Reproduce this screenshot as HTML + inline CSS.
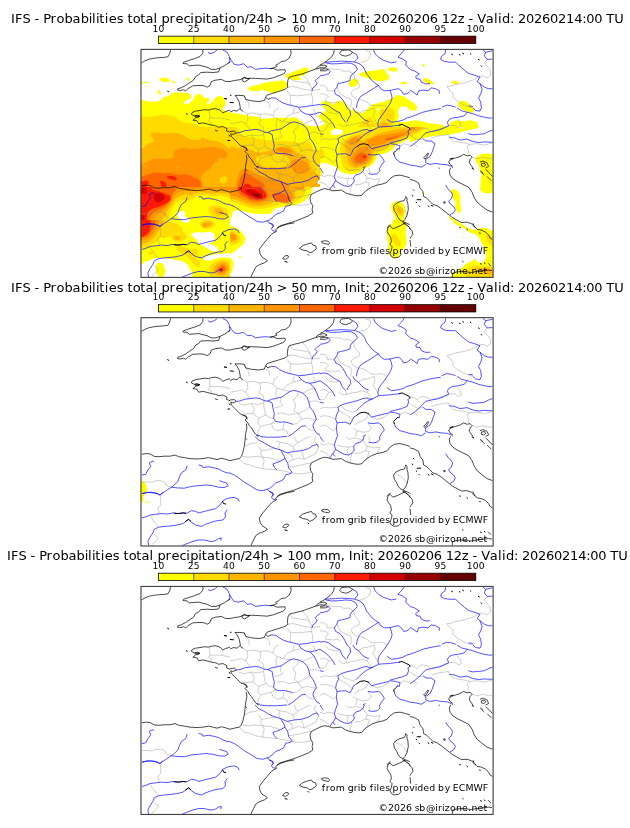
<!DOCTYPE html>
<html lang="en"><head><meta charset="utf-8"><title>IFS - Probabilities total precipitation/24h</title>
<style>
html,body{margin:0;padding:0;background:#fff}
body{width:630px;height:828px;overflow:hidden}
svg{display:block}
text{font-family:"DejaVu Sans","Liberation Sans",sans-serif;fill:#000}
.t{font-size:13.0px;white-space:pre}
.c{font-size:9.15px;white-space:pre}
.n{font-size:9.4px;white-space:pre}
.k{fill:none;stroke:#000;stroke-width:.72;stroke-linejoin:round}
.K{fill:none;stroke:#000;stroke-width:1.0;stroke-linejoin:round;stroke-linecap:round}
.b{fill:none;stroke:#00f;stroke-width:.68;stroke-linejoin:round}
.g{fill:none;stroke:#8a8a8a;stroke-width:.42;stroke-linejoin:round}
.f{fill:none;stroke:#444;stroke-width:1.15}
</style></head>
<body>
<svg width="630" height="828" viewBox="0 0 630 828">
<rect width="630" height="828" fill="#fff"/>
<g id="panel1">
<text class="t" x="11.09 15.10 22.45 30.48 34.49 39.17 43.18 50.54 56.56 64.58 72.61 80.63 88.65 92.00 96.01 99.35 104.70 108.72 116.74 123.43 127.44 132.79 140.14 145.49 153.52 157.53 161.54 169.57 175.59 183.61 190.30 194.31 202.33 205.68 211.03 219.05 224.40 228.41 236.44 244.46 248.47 256.50 264.52 272.55 276.56 287.26 291.27 299.30 307.32 311.33 324.04 336.74 340.75 344.77 348.78 356.80 360.15 365.50 369.51 373.52 381.55 389.57 397.59 405.62 413.64 421.67 429.69 437.72 441.73 449.75 457.78 464.46 468.48 473.16 477.17 485.86 493.89 497.90 501.91 509.94 513.95 517.96 525.98 534.01 542.03 550.06 558.08 566.11 574.13 582.16 586.17 594.19 602.22 606.23 614.25" y="23.25">IFS - Probabilities total precipitation/24h &gt; 10 mm, Init: 20260206 12z - Valid: 20260214:00 TU</text>
<rect x="158.50" y="36.15" width="35.31" height="7.30" fill="#ffff00"/><rect x="193.76" y="36.15" width="35.31" height="7.30" fill="#ffdc00"/><rect x="229.01" y="36.15" width="35.31" height="7.30" fill="#ffb400"/><rect x="264.27" y="36.15" width="35.31" height="7.30" fill="#ff9300"/><rect x="299.52" y="36.15" width="35.31" height="7.30" fill="#ff6600"/><rect x="334.78" y="36.15" width="35.31" height="7.30" fill="#ff1900"/><rect x="370.03" y="36.15" width="35.31" height="7.30" fill="#d40000"/><rect x="405.29" y="36.15" width="35.31" height="7.30" fill="#960000"/><rect x="440.54" y="36.15" width="35.31" height="7.30" fill="#640000"/>
<path d="M193.76 36.15V43.45M229.01 36.15V43.45M264.27 36.15V43.45M299.52 36.15V43.45M334.78 36.15V43.45M370.03 36.15V43.45M405.29 36.15V43.45M440.54 36.15V43.45" stroke="#000" stroke-width=".6" fill="none"/>
<rect x="158.50" y="36.15" width="317.30" height="7.30" fill="none" stroke="#000" stroke-width=".8"/>
<text class="c" x="152.48 158.50" y="31.60">10</text><text class="c" x="187.74 193.76" y="31.60">25</text><text class="c" x="222.99 229.01" y="31.60">40</text><text class="c" x="258.25 264.27" y="31.60">50</text><text class="c" x="293.50 299.52" y="31.60">60</text><text class="c" x="328.76 334.78" y="31.60">70</text><text class="c" x="364.02 370.03" y="31.60">80</text><text class="c" x="399.27 405.29" y="31.60">90</text><text class="c" x="434.53 440.54" y="31.60">95</text><text class="c" x="466.77 472.79 478.81" y="31.60">100</text>
<svg x="140.80" y="49.40" width="352.10" height="228.00" viewBox="0 0 352.10 228.00" overflow="hidden">
<rect width="352.10" height="228.00" fill="#fff"/>
<clipPath id="c0_0"><rect x="-0.80" y="-2.40" width="120.00" height="80.00"/></clipPath>
<g clip-path="url(#c0_0)"><rect x="-0.80" y="-2.40" width="120.00" height="80.00" fill="#fff"/>
<path d="M-4.6 50.6L0.7 50.6L6.8 51.9L14.4 52.5L20.2 50.9L22.1 48.1L27.8 46.7L31.6 43.3L37.3 42.9L44.9 43.3L49.7 45.2L50.6 48.6L46.8 50.6L43.0 52.8L44.0 54.7L48.7 53.8L52.5 50.0L54.4 46.2L58.2 44.3L62.1 46.2L64.0 49.0L67.8 48.1L68.7 51.9L64.9 53.8L69.7 54.4L72.5 50.9L75.4 47.5L79.2 46.2L83.0 48.6L84.9 52.8L84.0 56.6L81.1 59.5L86.8 62.4L94.4 63.9L102.1 65.2L109.7 66.6L123.0 68.5L123.0 81.4L-4.6 81.4Z" fill="#ffff00"/>
<path d="M-4.6 32.5L7.8 32.5L7.8 33.8L-4.6 33.8Z" fill="#ffff00"/>
<path d="M18.2 29.0L22.1 28.1L27.8 29.0L29.7 31.5L25.9 32.8L21.1 32.3Z" fill="#ffff00"/>
<path d="M30.6 30.9L33.5 31.9L34.4 34.2L31.6 33.4Z" fill="#ffff00"/>
<path d="M45.9 28.1L49.1 29.6L47.8 31.9L45.9 30.4Z" fill="#ffff00"/>
<path d="M17.3 40.5L19.2 41.4L20.2 44.8L17.9 45.2L16.7 42.9Z" fill="#ffff00"/>
<path d="M106.8 38.6L111.6 36.6L123.0 34.4L123.0 41.4L113.5 41.8L108.7 41.0Z" fill="#ffff00"/>
<path d="M-4.6 67.1L0.7 67.1L6.8 67.7L14.4 66.6L22.1 65.2L27.8 65.8L33.5 67.1L37.3 70.0L43.0 72.8L50.6 73.8L56.3 75.7L62.1 78.6L62.1 81.4L-4.6 81.4Z" fill="#ffdc00"/>
</g>
<clipPath id="c0_1"><rect x="119.20" y="-2.40" width="120.00" height="80.00"/></clipPath>
<g clip-path="url(#c0_1)"><rect x="119.20" y="-2.40" width="120.00" height="80.00" fill="#fff"/>
<path d="M115.4 34.7L119.2 34.7L126.8 32.8L134.4 31.9L142.1 30.9L145.9 32.8L146.8 36.6L142.1 40.5L136.3 42.9L130.6 43.7L124.9 41.0L119.2 40.5L115.4 41.0Z" fill="#ffff00"/>
<path d="M144.0 26.2L149.7 23.3L157.3 20.5L164.9 17.6L167.8 19.5L166.8 23.3L162.1 26.2L157.3 27.1L161.1 30.0L155.4 30.9L149.7 30.0L145.9 28.5Z" fill="#ffff00"/>
<path d="M171.6 18.2L173.5 18.9L172.5 20.1Z" fill="#ffff00"/>
<path d="M207.8 32.8L210.6 30.0L215.4 29.0L217.9 31.9L216.3 35.7L212.5 37.6L208.3 36.6Z" fill="#ffff00"/>
<path d="M218.2 24.3L224.0 22.4L231.6 21.4L243.0 20.1L243.0 30.9L237.3 31.5L230.6 30.0L224.9 28.1L220.2 27.1Z" fill="#ffff00"/>
<path d="M115.4 69.6L119.2 69.6L126.8 69.0L136.3 68.1L145.9 68.5L155.4 69.6L160.2 72.8L164.9 77.6L164.9 81.4L115.4 81.4Z" fill="#ffff00"/>
</g>
<clipPath id="c0_2"><rect x="149.20" y="37.60" width="90.00" height="60.00"/></clipPath>
<g clip-path="url(#c0_2)"><rect x="149.20" y="37.60" width="90.00" height="60.00" fill="#fff"/>
<path d="M146.3 68.3L149.2 68.3L153.5 67.6L157.8 69.7L162.1 73.3L166.3 76.2L170.6 76.9L176.3 76.5L182.1 76.2L184.2 73.3L181.3 71.2L177.8 67.6L179.2 64.7L182.1 62.6L186.3 61.2L183.5 59.0L179.9 54.0L182.1 51.9L186.3 51.9L190.6 53.3L192.1 55.5L196.3 51.9L200.6 51.2L204.2 53.3L207.8 57.6L209.9 61.2L212.1 60.5L216.3 61.9L220.6 64.0L223.5 62.6L227.1 59.0L230.6 55.5L234.9 54.0L242.1 53.3L242.1 100.5L146.3 100.5Z" fill="#ffff00"/>
<path d="M189.9 81.2L196.3 79.7L202.1 80.5L202.3 83.3L199.2 85.5L192.1 85.5L189.6 83.3Z" fill="#fff"/>
<path d="M236.3 59.0L239.2 59.0L239.2 61.2L236.6 61.2Z" fill="#fff"/>
<path d="M217.8 76.2L222.1 71.9L226.3 68.3L230.6 67.6L232.1 71.2L234.9 73.3L242.1 74.7L242.1 100.5L196.3 100.5L199.2 94.7L206.3 90.5L212.1 86.2L216.3 81.9Z" fill="#ffdc00"/>
<path d="M181.3 86.2L183.5 85.5L184.9 87.6L182.8 89.0Z" fill="#ffdc00"/>
<path d="M197.8 100.5L200.6 94.7L206.3 91.2L212.1 88.3L216.3 85.5L220.6 82.2L224.9 80.5L229.2 79.7L234.9 80.5L242.1 81.9L242.1 100.5Z" fill="#ffb400"/>
<path d="M206.3 100.5L209.2 94.7L213.5 91.2L217.8 89.0L223.5 86.9L229.2 85.5L234.9 86.2L242.1 87.6L242.1 100.5Z" fill="#ff9300"/>
<path d="M210.6 100.5L212.1 94.7L216.3 92.6L220.6 93.3L217.8 97.6L216.3 100.5Z" fill="#ff6600"/>
</g>
<clipPath id="c0_3"><rect x="239.20" y="-2.40" width="120.00" height="80.00"/></clipPath>
<g clip-path="url(#c0_3)"><rect x="239.20" y="-2.40" width="120.00" height="80.00" fill="#fff"/>
<path d="M235.4 20.1L239.2 20.1L244.0 19.5L244.9 23.3L248.7 26.2L247.8 30.0L243.0 31.5L235.4 30.9Z" fill="#ffff00"/>
<path d="M246.8 18.9L251.6 17.6L256.3 18.9L257.3 21.4L252.5 22.4L247.8 21.4Z" fill="#ffff00"/>
<path d="M259.2 32.8L263.0 32.3L266.8 33.0L265.9 34.7L261.1 34.9Z" fill="#ffff00"/>
<path d="M281.1 15.1L283.4 14.7L284.0 17.0L281.5 17.4Z" fill="#ffff00"/>
<path d="M282.1 29.0L285.9 28.5L290.6 31.5L293.5 33.8L290.6 35.3L285.9 33.8L282.6 31.5Z" fill="#ffff00"/>
<path d="M310.6 32.3L314.4 31.1L317.7 32.3L317.3 34.7L312.5 34.9Z" fill="#ffff00"/>
<path d="M317.3 53.8L320.2 51.3L324.9 51.9L329.7 55.7L333.5 59.5L332.5 63.3L327.8 62.7L322.1 60.5L318.2 57.6Z" fill="#ffff00"/>
<path d="M235.4 52.8L239.2 52.8L244.9 51.9L252.5 48.1L256.3 45.6L262.1 46.7L267.8 50.0L273.5 53.8L276.3 57.6L275.4 61.4L269.7 60.5L264.0 56.6L259.2 57.6L257.3 62.4L258.2 67.1L256.3 71.9L264.0 72.8L273.5 70.9L281.1 71.9L288.7 73.8L296.3 74.7L302.1 75.7L307.8 81.4L235.4 81.4Z" fill="#ffff00"/>
<path d="M306.8 81.4L309.7 72.8L315.4 70.9L323.0 71.9L330.6 70.9L336.3 72.8L339.2 81.4Z" fill="#ffff00"/>
<path d="M235.4 60.5L243.0 59.5L248.7 58.6L252.5 60.5L254.4 65.2L252.5 70.9L250.6 81.4L235.4 81.4Z" fill="#ffdc00"/>
<path d="M235.4 73.8L243.0 72.8L247.8 73.8L248.7 81.4L235.4 81.4Z" fill="#ffb400"/>
</g>
<clipPath id="c0_4"><rect x="-0.80" y="77.60" width="90.00" height="60.00"/></clipPath>
<g clip-path="url(#c0_4)"><rect x="-0.80" y="77.60" width="90.00" height="60.00" fill="#fff"/>
<path d="M-3.7 74.7L92.1 74.7L92.1 140.5L-3.7 140.5Z" fill="#ffdc00"/>
<path d="M-3.7 99.0L1.2 99.0L4.9 96.2L7.8 94.0L13.5 91.9L10.6 87.6L9.9 83.3L14.9 83.0L22.1 84.0L29.2 83.3L36.3 83.6L42.1 85.5L46.3 88.3L52.1 90.5L57.8 90.5L62.1 87.6L64.9 89.7L70.6 91.2L76.3 91.9L82.1 94.0L86.3 97.6L92.1 101.2L92.1 140.5L-3.7 140.5Z" fill="#ffb400"/>
<path d="M-3.7 114.7L1.2 114.7L4.9 113.3L9.2 111.2L13.5 109.0L20.6 109.7L27.8 109.7L33.5 107.6L32.8 104.7L33.5 101.2L37.8 99.0L43.5 98.7L49.2 99.7L56.3 99.0L63.5 98.3L70.6 97.6L77.8 98.3L83.5 100.5L86.6 104.0L86.3 108.3L82.1 109.3L77.8 108.3L77.1 111.9L73.5 113.3L70.6 117.6L67.8 120.5L64.9 121.9L62.1 124.7L59.9 129.0L61.3 133.3L62.8 140.5L-3.7 140.5Z" fill="#ff9300"/>
<path d="M34.2 116.9L37.8 116.5L38.1 118.3L34.9 118.7Z" fill="#ffb400"/>
<path d="M1.8 116.2L4.9 115.9L4.9 117.6L2.1 117.9Z" fill="#ffb400"/>
<path d="M-3.7 126.9L1.2 126.9L6.3 125.5L12.1 123.3L17.8 123.0L23.5 124.0L27.8 123.3L33.5 124.7L39.2 125.5L44.9 124.7L50.6 126.9L56.3 129.0L59.2 131.9L60.6 134.7L59.2 140.5L-3.7 140.5Z" fill="#ff6600"/>
<path d="M26.3 126.9L32.1 126.5L36.3 129.0L34.9 131.2L29.2 129.7L26.3 128.3Z" fill="#ff1900"/>
<path d="M19.2 131.9L22.8 131.6L25.6 134.7L24.2 140.5L20.6 136.2Z" fill="#ff1900"/>
<path d="M-3.7 131.9L1.2 131.9L6.3 131.2L8.5 132.6L6.3 135.5L3.5 140.5L-3.7 140.5Z" fill="#ff1900"/>
<path d="M79.2 129.0L83.5 126.5L86.3 128.3L85.6 132.6L82.1 134.7L79.2 132.6Z" fill="#ffdc00"/>
</g>
<clipPath id="c0_5"><rect x="89.20" y="77.60" width="90.00" height="60.00"/></clipPath>
<g clip-path="url(#c0_5)"><rect x="89.20" y="77.60" width="90.00" height="60.00" fill="#fff"/>
<path d="M86.3 74.7L182.1 74.7L182.1 140.5L86.3 140.5Z" fill="#ffff00"/>
<path d="M86.3 74.7L95.6 74.7L95.6 77.6L97.8 81.9L102.1 86.2L107.8 87.6L113.5 88.3L119.2 89.7L124.9 91.2L130.6 90.5L136.3 91.9L142.1 91.2L147.8 91.9L153.5 92.6L159.2 93.3L164.9 91.9L169.2 93.3L172.1 97.6L173.5 101.9L177.8 100.5L182.1 101.2L182.1 140.5L86.3 140.5Z" fill="#ffdc00"/>
<path d="M86.3 96.9L89.2 96.9L93.5 97.6L97.8 99.0L100.6 97.6L106.3 99.0L110.6 100.5L114.9 102.6L120.6 103.3L126.3 101.9L132.1 101.2L136.3 98.3L142.1 96.9L149.2 97.6L153.5 101.2L157.8 104.7L163.5 106.2L167.8 110.5L169.2 114.7L172.1 120.5L174.9 124.7L182.1 126.9L182.1 140.5L86.3 140.5Z" fill="#ffb400"/>
<path d="M116.3 106.9L122.1 105.5L129.2 106.2L134.9 104.7L140.6 105.5L146.3 106.9L149.2 110.5L147.8 114.7L143.5 117.6L137.8 118.3L132.1 117.6L126.3 118.3L120.6 116.2L116.3 113.3L114.9 109.7Z" fill="#ffdc00"/>
<path d="M94.2 140.5L95.6 131.9L97.8 124.7L100.6 120.5L104.9 119.0L109.2 120.5L113.5 123.3L117.8 125.5L123.5 127.6L129.2 129.0L134.9 130.5L140.6 131.9L146.3 133.3L149.2 137.6L149.2 140.5Z" fill="#ff9300"/>
<path d="M134.9 99.0L140.6 97.9L147.8 99.0L152.1 101.9L150.6 104.0L144.9 103.3L139.2 102.6L135.6 101.2Z" fill="#ff9300"/>
<path d="M150.6 111.9L154.9 109.7L160.6 110.5L166.3 113.3L168.5 119.0L166.3 123.3L160.6 124.7L154.9 123.3L152.1 120.5L149.9 116.2Z" fill="#ff9300"/>
<path d="M96.3 140.5L97.8 134.7L99.9 127.6L102.8 124.0L105.6 123.3L109.2 125.5L113.5 128.3L117.8 131.2L122.1 134.0L126.3 138.3L126.3 140.5Z" fill="#ff6600"/>
<path d="M101.3 140.5L102.8 136.2L104.9 134.0L107.8 134.7L110.6 136.9L112.8 140.5Z" fill="#ff1900"/>
<path d="M176.3 131.2L182.1 130.5L182.1 134.7L177.1 134.7Z" fill="#fff"/>
</g>
<clipPath id="c0_6"><rect x="179.20" y="77.60" width="90.00" height="60.00"/></clipPath>
<g clip-path="url(#c0_6)"><rect x="179.20" y="77.60" width="90.00" height="60.00" fill="#fff"/>
<path d="M176.3 74.7L272.1 74.7L272.1 88.3L266.3 90.5L260.6 93.3L254.9 96.2L250.6 100.5L246.3 103.3L240.6 104.7L236.3 106.2L234.9 110.5L232.1 114.7L227.8 117.6L223.5 119.0L220.6 121.9L214.9 124.7L207.8 124.7L202.1 123.3L197.8 120.5L194.9 117.6L190.6 115.5L184.9 113.3L179.2 114.0L176.3 114.0Z" fill="#ffff00"/>
<path d="M176.3 120.5L180.6 120.5L181.3 123.3L180.6 126.2L176.3 126.2Z" fill="#ffff00"/>
<path d="M189.9 81.9L193.5 79.7L200.6 80.2L202.3 82.6L200.6 85.0L193.5 85.9L190.3 84.5Z" fill="#fff"/>
<path d="M176.3 99.0L179.2 99.0L182.8 100.5L184.2 104.7L182.1 108.3L179.2 109.0L176.3 109.0Z" fill="#ffdc00"/>
<path d="M176.3 84.0L179.2 84.0L181.3 85.5L182.1 88.3L179.2 89.0L176.3 89.0Z" fill="#ffdc00"/>
<path d="M200.6 93.3L204.9 89.0L210.6 86.2L216.3 84.0L222.1 81.9L227.8 80.5L233.5 79.0L239.2 78.3L246.3 74.7L272.1 74.7L272.1 85.5L264.9 89.0L259.2 91.9L253.5 94.7L249.2 97.6L244.9 100.5L240.6 101.9L236.3 103.3L233.5 107.6L232.1 111.9L229.2 115.5L224.9 117.6L220.6 119.7L214.9 121.9L209.2 121.9L204.9 120.5L202.1 117.6L200.6 113.3L199.9 107.6L199.2 101.9L199.9 96.2Z" fill="#ffdc00"/>
<path d="M203.5 94.7L207.8 89.7L213.5 86.9L219.2 85.5L222.1 87.6L219.2 91.2L222.1 91.9L227.8 89.0L233.5 86.2L239.2 84.0L244.9 82.6L250.6 81.2L257.8 79.7L264.9 79.0L272.1 79.7L272.1 84.0L264.9 86.9L259.2 89.7L253.5 91.9L247.8 94.7L243.5 97.6L239.2 99.0L234.9 100.5L232.1 103.3L231.3 107.6L229.2 111.9L224.9 115.5L219.2 117.6L213.5 118.3L209.2 116.2L207.1 111.9L206.3 106.2L204.9 100.5Z" fill="#ffb400"/>
<path d="M207.8 93.3L210.6 89.7L214.9 87.6L217.8 89.0L216.3 91.9L213.5 95.5L209.9 96.2Z" fill="#ff9300"/>
<path d="M226.3 91.2L232.1 88.3L237.8 86.2L243.5 85.5L250.6 84.7L257.8 83.3L264.9 81.9L267.8 83.3L264.9 85.5L259.2 87.6L253.5 89.7L247.8 91.9L242.1 94.7L236.3 96.2L230.6 96.9L227.1 94.7Z" fill="#ff9300"/>
<path d="M209.9 110.5L212.1 104.7L216.3 100.5L220.6 97.6L224.9 96.9L228.5 99.0L229.9 103.3L229.2 108.3L227.1 111.9L222.1 114.7L216.3 115.9L212.1 114.5Z" fill="#ff9300"/>
<path d="M213.5 109.7L216.3 105.5L220.6 103.3L224.9 104.7L227.1 107.6L224.9 111.2L220.6 113.3L215.6 113.0Z" fill="#ff6600"/>
<path d="M243.5 89.0L250.6 87.6L257.8 86.2L263.5 84.7L259.2 86.9L252.1 89.7L246.3 91.2Z" fill="#ff6600"/>
<path d="M221.3 106.9L224.2 105.5L225.6 107.6L223.5 109.0Z" fill="#ff1900"/>
</g>
<clipPath id="c0_7"><rect x="269.20" y="77.60" width="90.00" height="60.00"/></clipPath>
<g clip-path="url(#c0_7)"><rect x="269.20" y="77.60" width="90.00" height="60.00" fill="#fff"/>
<path d="M266.3 74.7L339.2 74.7L339.2 77.6L333.5 79.7L326.3 81.2L319.2 83.0L312.1 84.7L304.9 85.5L297.8 86.2L290.6 86.9L284.9 88.3L279.2 89.7L274.9 91.2L269.2 92.6L266.3 93.3Z" fill="#ffff00"/>
<path d="M318.2 77.6L320.2 77.6L320.2 79.3L318.5 79.3Z" fill="#fff"/>
<path d="M334.2 109.7L336.3 106.9L340.6 104.7L346.3 104.0L351.8 104.7L362.1 104.7L362.1 140.5L339.2 140.5L339.9 131.9L340.6 126.2L339.2 120.5L337.8 116.2L335.6 112.6Z" fill="#ffff00"/>
<path d="M266.3 87.6L269.2 87.6L273.5 85.5L277.8 83.3L282.1 80.5L284.9 77.6L284.9 74.7L266.3 74.7Z" fill="#ffdc00"/>
<path d="M266.3 84.7L269.2 84.7L273.5 82.6L277.8 80.5L280.6 77.6L280.6 74.7L266.3 74.7Z" fill="#ffb400"/>
<path d="M266.3 81.9L269.2 81.9L273.5 79.7L276.3 77.6L276.3 74.7L266.3 74.7Z" fill="#ff9300"/>
</g>
<clipPath id="c0_8"><rect x="-0.80" y="137.60" width="90.00" height="60.00"/></clipPath>
<g clip-path="url(#c0_8)"><rect x="-0.80" y="137.60" width="90.00" height="60.00" fill="#fff"/>
<path d="M-3.7 134.7L92.1 134.7L92.1 200.5L-3.7 200.5Z" fill="#ffff00"/>
<path d="M37.1 162.6L42.1 161.2L44.9 164.0L43.5 166.2L47.8 169.0L49.2 171.9L44.9 173.3L40.6 171.9L37.8 168.3L35.6 165.5Z" fill="#fff"/>
<path d="M49.2 184.7L53.5 182.6L59.2 183.3L64.9 182.6L70.6 181.9L73.5 184.7L74.2 189.0L72.1 192.6L66.3 194.0L60.6 193.3L56.3 190.5L52.1 187.6Z" fill="#fff"/>
<path d="M80.6 174.0L84.9 171.9L92.1 171.2L92.1 174.7L83.5 175.5Z" fill="#fff"/>
<path d="M92.1 149.0L84.9 147.6L79.2 146.2L73.5 146.9L67.8 146.2L62.1 145.5L56.3 146.2L53.5 149.0L49.2 150.5L44.9 151.9L40.6 150.5L36.3 151.9L33.5 156.2L30.6 160.5L29.2 164.7L27.8 169.0L30.6 173.3L33.5 177.6L30.6 180.5L26.3 181.9L23.5 184.7L22.1 189.0L20.6 193.3L19.2 200.5L-3.7 200.5L-3.7 134.7L92.1 134.7Z" fill="#ffdc00"/>
<path d="M67.8 157.6L73.5 156.2L79.2 156.9L84.9 159.0L87.8 163.3L86.3 167.6L82.1 169.0L76.3 168.3L70.6 166.2L67.8 162.6Z" fill="#ffdc00"/>
<path d="M59.2 171.9L64.9 169.7L70.6 170.5L73.5 173.3L72.1 177.6L66.3 179.7L62.1 179.0L59.9 176.2Z" fill="#ffdc00"/>
<path d="M30.6 186.2L34.9 184.7L40.6 185.5L43.5 183.3L46.3 184.7L44.9 189.0L40.6 191.9L34.9 192.6L31.3 190.5Z" fill="#ffdc00"/>
<path d="M92.1 144.7L83.5 144.0L77.8 143.3L70.6 144.0L64.9 143.3L59.2 142.6L53.5 144.7L49.2 146.2L44.9 144.7L40.6 146.2L34.9 149.0L32.1 153.3L29.2 157.6L26.3 161.9L24.9 166.2L22.1 169.0L17.8 173.3L14.9 177.6L13.5 181.9L12.1 186.2L10.6 190.5L9.2 200.5L-3.7 200.5L-3.7 134.7L92.1 134.7Z" fill="#ffb400"/>
<path d="M73.5 159.0L77.8 158.3L82.1 160.5L83.5 164.0L79.2 165.5L74.9 164.0Z" fill="#ffb400"/>
<path d="M61.3 174.7L64.9 172.6L69.2 173.3L67.8 176.9L63.5 178.3Z" fill="#ffb400"/>
<path d="M33.5 187.6L37.1 186.9L39.2 189.0L36.3 190.7Z" fill="#ffb400"/>
<path d="M92.1 141.2L82.1 140.5L73.5 139.7L64.9 139.0L56.3 139.7L49.2 141.9L42.1 141.2L36.3 143.3L32.1 147.6L30.6 151.9L27.8 156.2L23.5 160.5L19.2 163.3L14.9 166.2L12.1 170.5L10.6 174.7L11.3 180.5L10.6 186.2L7.8 190.5L6.3 200.5L-3.7 200.5L-3.7 134.7L92.1 134.7Z" fill="#ff9300"/>
<path d="M39.2 134.7L34.9 140.5L31.3 144.7L30.6 149.0L27.8 153.3L23.5 157.6L17.8 160.5L12.1 163.3L9.2 167.6L7.8 173.3L9.2 179.0L8.5 184.7L6.3 189.0L4.9 200.5L-3.7 200.5L-3.7 134.7Z" fill="#ff6600"/>
<path d="M9.2 134.7L12.1 140.5L17.8 141.9L23.5 144.0L29.2 146.2L29.9 150.5L26.3 153.3L22.1 155.5L17.8 157.6L12.1 159.0L7.8 161.9L6.3 166.2L5.6 171.9L7.8 177.6L7.1 183.3L4.9 187.6L3.5 191.9L1.2 194.7L-3.7 194.7L-3.7 134.7Z" fill="#ff1900"/>
<path d="M12.8 144.7L17.8 143.3L22.8 145.5L24.2 149.0L20.6 151.9L16.3 153.3L13.5 150.5Z" fill="#d40000"/>
<path d="M-3.7 137.6L5.6 138.3L6.3 143.3L3.5 144.7L-3.7 143.3Z" fill="#d40000"/>
<path d="M-3.7 164.7L3.5 166.2L3.5 174.7L-3.7 176.2Z" fill="#d40000"/>
</g>
<clipPath id="c0_9"><rect x="89.20" y="137.60" width="90.00" height="60.00"/></clipPath>
<g clip-path="url(#c0_9)"><rect x="89.20" y="137.60" width="90.00" height="60.00" fill="#fff"/>
<path d="M86.3 134.7L172.1 134.7L172.1 137.6L170.6 143.3L167.8 147.6L163.5 151.9L157.8 154.7L152.1 156.2L146.3 156.9L142.1 157.6L136.3 158.3L132.1 160.5L131.3 163.3L127.8 164.7L120.6 164.7L113.5 164.0L107.8 163.3L102.1 161.9L96.3 160.5L92.1 161.9L90.6 167.6L89.2 171.9L86.3 171.9Z" fill="#ffff00"/>
<path d="M86.3 176.2L89.2 176.2L93.5 177.6L97.8 180.5L102.1 184.7L104.2 189.0L103.5 193.3L100.6 196.2L96.3 200.5L86.3 200.5Z" fill="#ffff00"/>
<path d="M86.3 151.9L89.2 151.9L94.9 153.3L100.6 155.5L106.3 157.6L112.1 159.0L117.8 159.7L124.9 159.0L130.6 157.6L136.3 155.5L142.1 154.7L147.8 155.5L152.1 154.0L156.3 151.9L160.6 149.0L163.5 144.7L164.9 140.5L166.3 134.7L86.3 134.7Z" fill="#ffdc00"/>
<path d="M86.3 179.0L92.1 179.7L96.3 181.9L99.9 186.2L100.6 190.5L97.8 194.0L93.5 196.2L86.3 196.2Z" fill="#ffdc00"/>
<path d="M86.3 149.0L93.5 149.7L99.2 151.9L104.9 154.0L110.6 156.2L117.8 156.9L124.9 155.5L130.6 153.3L136.3 151.9L142.1 151.9L147.8 152.6L152.1 151.2L154.9 147.6L153.5 143.3L156.3 139.0L160.6 134.7L86.3 134.7Z" fill="#ffb400"/>
<path d="M86.3 181.2L92.1 181.9L95.6 184.7L97.1 189.0L94.9 192.6L86.3 194.0Z" fill="#ffb400"/>
<path d="M86.3 146.2L93.5 146.9L99.2 149.0L104.9 151.2L110.6 153.3L117.8 154.0L123.5 152.6L127.8 150.5L132.1 147.6L136.3 146.2L142.1 146.2L147.8 149.0L152.1 149.0L152.8 144.7L149.2 140.5L146.3 134.7L86.3 134.7Z" fill="#ff9300"/>
<path d="M150.6 134.7L153.5 139.0L157.8 140.5L163.5 139.0L164.9 134.7Z" fill="#ff9300"/>
<path d="M94.9 134.7L96.3 140.5L99.2 145.5L104.9 148.3L110.6 151.2L117.8 151.9L123.5 150.5L127.1 147.6L126.3 143.3L123.5 139.0L120.6 134.7Z" fill="#ff6600"/>
<path d="M99.2 134.7L97.8 139.0L100.6 142.6L104.9 145.5L110.6 149.0L116.3 150.5L122.1 149.7L125.6 147.6L124.9 143.3L121.3 139.7L117.8 134.7Z" fill="#ff1900"/>
<path d="M104.9 140.5L109.2 139.7L114.9 141.2L119.9 144.0L122.8 146.9L120.6 149.0L115.6 148.3L110.6 146.2L106.3 143.3Z" fill="#d40000"/>
<path d="M112.1 144.0L116.3 144.0L119.9 146.2L117.8 147.9L113.5 146.9Z" fill="#960000"/>
<path d="M130.6 144.7L136.3 143.3L143.5 144.0L149.2 147.6L150.6 151.9L146.3 153.3L139.2 152.6L133.5 150.5Z" fill="#ff6600"/>
</g>
<clipPath id="c0_10"><rect x="179.20" y="137.60" width="90.00" height="60.00"/></clipPath>
<g clip-path="url(#c0_10)"><rect x="179.20" y="137.60" width="90.00" height="60.00" fill="#fff"/>
<path d="M250.6 154.7L253.5 152.6L257.8 151.9L262.1 154.0L264.2 157.6L264.9 161.9L263.5 166.2L262.8 170.5L264.9 174.7L265.6 179.0L264.9 183.3L266.3 187.6L265.6 193.3L263.5 200.5L247.8 200.5L246.3 193.3L247.1 187.6L246.3 183.3L247.8 179.0L250.6 174.7L253.5 171.2L254.2 167.6L252.1 163.3L250.3 159.0Z" fill="#ffff00"/>
<path d="M254.2 156.9L257.1 155.5L260.6 157.6L262.8 161.2L262.8 165.5L260.6 167.6L257.8 166.2L255.6 162.6L254.2 159.7Z" fill="#ffdc00"/>
<path d="M250.6 184.7L253.5 184.0L256.3 186.9L258.5 190.5L259.2 194.0L256.3 194.7L253.5 191.9L251.3 188.3Z" fill="#ffdc00"/>
<path d="M255.6 158.3L258.5 158.3L261.3 161.9L260.6 164.7L257.8 163.3Z" fill="#ffb400"/>
</g>
<clipPath id="c0_11"><rect x="269.20" y="137.60" width="90.00" height="60.00"/></clipPath>
<g clip-path="url(#c0_11)"><rect x="269.20" y="137.60" width="90.00" height="60.00" fill="#fff"/>
<path d="M309.2 140.5L313.5 139.7L317.8 142.6L319.9 147.6L319.2 153.3L320.6 159.0L319.2 164.0L316.3 162.6L314.2 157.6L314.9 151.9L312.1 149.0L311.3 144.7Z" fill="#ffff00"/>
<path d="M339.2 134.7L339.2 140.5L342.1 143.3L346.3 144.0L351.8 143.3L362.1 143.3L362.1 134.7Z" fill="#ffff00"/>
<path d="M307.1 166.2L310.6 168.3L314.9 171.2L319.2 173.3L323.5 176.2L327.8 179.0L332.1 180.5L336.3 179.7L340.6 178.3L346.3 179.0L351.8 181.9L362.1 181.9L362.1 200.5L342.1 200.5L342.8 194.7L340.6 190.5L337.8 186.9L333.5 184.0L329.2 183.3L324.9 179.7L319.2 176.9L313.5 173.3L309.2 169.7Z" fill="#ffff00"/>
<path d="M321.5 187.0L322.6 187.0L322.6 188.2L321.5 188.2Z" fill="#ffff00"/>
<path d="M281.5 142.7L282.9 142.7L282.9 144.2L281.5 144.2Z" fill="#ffff00"/>
<path d="M344.9 184.7L348.5 185.5L351.8 189.0L362.1 189.0L362.1 197.6L349.2 196.2L346.3 192.6L345.6 187.6Z" fill="#ffdc00"/>
</g>
<clipPath id="c0_12"><rect x="-0.80" y="170.60" width="90.00" height="60.00"/></clipPath>
<g clip-path="url(#c0_12)"><rect x="-0.80" y="170.60" width="90.00" height="60.00" fill="#fff"/>
<path d="M-3.7 167.7L92.1 167.7L92.1 233.5L-3.7 233.5Z" fill="#ffff00"/>
<path d="M49.9 184.9L54.9 182.7L60.6 183.2L66.3 182.7L70.6 182.0L73.5 184.9L74.2 189.2L72.1 192.7L67.8 194.2L72.1 195.6L76.3 197.7L77.8 201.3L74.9 202.7L70.6 201.3L66.3 199.2L62.1 196.3L57.8 194.2L56.3 190.6L52.1 187.7Z" fill="#fff"/>
<path d="M-3.7 214.9L1.2 214.9L3.5 212.7L7.8 211.3L13.5 208.5L19.2 208.5L24.9 209.2L30.6 209.9L36.3 210.6L42.1 212.0L46.3 214.9L49.2 219.2L51.3 223.5L52.8 233.5L-3.7 233.5Z" fill="#fff"/>
<path d="M14.9 216.3L17.1 213.5L20.6 213.5L23.5 216.3L24.6 222.0L22.8 227.0L17.8 227.7L15.2 222.7Z" fill="#ffff00"/>
<path d="M37.8 167.7L42.1 172.7L46.3 173.5L49.2 171.3L49.9 167.7Z" fill="#fff"/>
<path d="M62.1 208.5L66.3 206.3L72.1 205.6L76.3 204.2L80.6 204.9L84.9 203.7L92.1 204.2L92.1 208.0L84.9 208.0L79.2 208.0L73.5 209.9L67.8 211.3L63.5 210.6Z" fill="#fff"/>
<path d="M88.5 167.7L90.6 173.5L92.1 173.5L92.1 167.7Z" fill="#fff"/>
<path d="M-3.7 167.7L27.8 167.7L26.3 174.9L23.5 179.2L20.6 183.5L19.2 187.7L16.3 192.0L12.1 194.9L7.8 197.0L3.5 198.5L-3.7 199.2Z" fill="#ffdc00"/>
<path d="M29.9 186.3L33.5 184.2L37.8 184.9L42.1 182.7L44.9 184.2L46.3 187.7L43.5 190.6L39.2 192.0L34.9 192.0L31.3 189.9Z" fill="#ffdc00"/>
<path d="M17.3 176.3L22.1 173.5L29.9 172.0L37.1 174.9L42.1 179.2L42.1 183.5L33.5 184.2L29.9 186.3L23.5 189.2L18.5 187.0L17.1 180.6Z" fill="#ffdc00"/>
<path d="M35.6 197.7L40.6 197.0L44.9 198.5L49.2 199.9L54.9 199.2L57.8 202.0L56.3 205.6L53.5 207.0L56.3 210.6L59.2 214.2L58.5 217.0L54.9 217.0L52.1 213.5L49.2 209.9L44.9 206.3L40.6 204.2L37.1 201.3Z" fill="#ffdc00"/>
<path d="M58.5 173.5L62.1 171.3L67.8 170.6L73.5 172.0L74.9 175.6L70.6 178.5L64.9 179.9L60.6 177.7Z" fill="#ffdc00"/>
<path d="M67.8 217.7L72.1 213.5L77.8 210.6L83.5 209.9L89.2 212.0L92.1 216.3L92.1 233.5L70.6 233.5L68.5 223.5Z" fill="#ffdc00"/>
<path d="M6.3 202.7L10.6 202.3L12.8 204.2L9.2 205.6Z" fill="#ffdc00"/>
<path d="M-3.7 167.7L23.5 167.7L22.1 174.9L19.2 179.2L16.3 183.5L13.5 187.7L9.2 191.3L4.9 193.5L-3.7 194.9Z" fill="#ffb400"/>
<path d="M32.8 187.7L36.3 186.3L39.9 187.7L39.2 190.3L34.9 190.6Z" fill="#ffb400"/>
<path d="M60.6 174.9L63.5 172.7L69.2 172.0L72.1 174.2L69.2 177.0L63.5 178.5Z" fill="#ffb400"/>
<path d="M72.1 219.2L74.9 215.6L79.2 212.7L84.2 212.0L87.8 214.9L88.5 219.9L86.3 224.2L82.1 226.3L76.3 225.6L72.8 222.7Z" fill="#ffb400"/>
<path d="M-3.7 167.7L19.2 167.7L17.8 174.9L14.9 180.6L12.1 184.9L7.8 189.2L-3.7 192.0Z" fill="#ff9300"/>
<path d="M74.9 219.9L77.8 216.3L82.1 214.2L85.6 216.3L86.3 220.6L83.5 224.2L79.2 224.6L76.3 222.7Z" fill="#ff9300"/>
<path d="M-3.7 167.7L14.9 167.7L14.2 174.9L12.1 179.9L9.2 184.2L4.9 187.7L-3.7 189.9Z" fill="#ff6600"/>
<path d="M77.1 219.9L79.9 217.0L83.5 216.3L84.9 219.9L82.1 222.7L78.5 222.7Z" fill="#ff6600"/>
<path d="M-3.7 167.7L9.2 167.7L9.9 174.9L9.2 180.6L6.3 184.9L1.2 187.7L-3.7 187.7Z" fill="#ff1900"/>
<path d="M78.5 219.9L80.9 218.5L82.8 219.9L80.9 221.7Z" fill="#ff1900"/>
<path d="M61.3 175.6L64.2 174.2L65.6 176.3L62.8 177.7Z" fill="#ff9300"/>
</g>
<clipPath id="c0_13"><rect x="89.20" y="170.60" width="90.00" height="60.00"/></clipPath>
<g clip-path="url(#c0_13)"><rect x="89.20" y="170.60" width="90.00" height="60.00" fill="#fff"/>
<path d="M86.3 176.3L89.2 176.3L93.5 177.7L97.8 179.9L102.1 184.2L104.6 189.2L103.5 194.2L99.2 197.7L94.9 201.3L90.6 204.2L86.3 204.9Z" fill="#ffff00"/>
<path d="M98.1 207.0L100.1 207.0L100.1 208.9L98.1 208.9Z" fill="#ffff00"/>
<path d="M86.3 208.5L90.6 209.2L92.8 213.5L92.1 219.2L90.6 223.5L86.3 224.9Z" fill="#ffff00"/>
<path d="M86.3 180.6L92.1 181.3L96.3 183.5L99.2 187.0L99.9 191.3L97.1 194.2L92.8 195.6L86.3 196.3Z" fill="#ffdc00"/>
<path d="M86.3 182.7L92.1 183.2L95.6 185.6L97.1 189.2L94.9 192.0L90.6 192.7L86.3 192.0Z" fill="#ffb400"/>
<path d="M89.2 184.9L93.5 184.9L95.6 187.7L93.5 190.6L89.9 189.9Z" fill="#ff9300"/>
</g>
<clipPath id="c0_14"><rect x="179.20" y="170.60" width="90.00" height="60.00"/></clipPath>
<g clip-path="url(#c0_14)"><rect x="179.20" y="170.60" width="90.00" height="60.00" fill="#fff"/>
<path d="M253.5 167.7L250.6 174.9L247.8 179.2L246.3 183.5L246.3 189.2L247.8 194.9L247.1 199.2L248.5 203.5L250.6 207.0L254.9 209.2L257.8 208.5L258.5 204.2L260.6 201.3L263.5 198.5L265.6 194.9L265.6 189.2L264.9 183.5L265.6 177.7L264.9 173.5L263.5 167.7Z" fill="#ffff00"/>
<path d="M250.6 184.9L253.5 184.2L256.3 187.0L258.5 190.6L260.6 193.5L259.2 196.3L256.3 197.0L253.5 194.2L251.3 189.9Z" fill="#ffdc00"/>
</g>
<clipPath id="c0_15"><rect x="269.20" y="170.60" width="90.00" height="60.00"/></clipPath>
<g clip-path="url(#c0_15)"><rect x="269.20" y="170.60" width="90.00" height="60.00" fill="#fff"/>
<path d="M310.6 167.7L314.9 171.3L319.2 173.5L323.5 176.3L327.8 179.2L332.1 180.6L336.3 179.5L340.6 178.5L346.3 178.9L351.8 181.3L362.1 181.3L362.1 233.5L309.2 233.5L310.6 227.7L313.5 223.5L317.8 220.6L322.1 217.7L326.3 213.5L330.6 212.0L333.5 209.2L336.3 212.0L340.6 213.5L343.5 212.0L345.6 207.7L344.9 202.0L342.8 196.3L339.9 192.0L337.8 187.7L333.5 184.2L329.2 183.5L324.9 179.9L319.2 177.0L313.5 173.5L309.2 169.2Z" fill="#ffff00"/>
<path d="M322.1 187.5L323.5 187.5L323.5 188.6L322.1 188.6Z" fill="#ffff00"/>
<path d="M344.9 184.9L349.2 185.6L351.8 189.2L362.1 189.2L362.1 197.7L350.6 196.3L347.1 192.7L345.6 188.5Z" fill="#ffdc00"/>
<path d="M326.3 219.2L330.6 217.0L336.3 216.3L342.1 217.0L347.8 216.3L351.8 217.7L362.1 217.7L362.1 233.5L329.2 233.5L323.5 224.9L324.9 221.3Z" fill="#ffdc00"/>
<path d="M334.9 219.9L340.6 218.5L346.3 218.5L351.8 219.9L362.1 219.9L362.1 227.7L349.2 225.6L343.5 224.2L337.8 222.7Z" fill="#ffb400"/>
</g>
<path class="g" d="M68.5 60.7L68.9 65.0L69.2 68.5L73.5 68.8L79.2 68.5L84.9 69.7L89.2 70.7M69.2 68.5L67.8 71.4L70.6 72.8L70.6 75.7M1.2 164.3L6.3 164.0L10.6 164.5L14.9 162.8L20.6 162.8L24.2 164.3L24.9 167.1L27.8 168.3L30.6 169.3M19.2 177.1L19.9 182.1L19.9 187.1L17.1 190.0L18.5 194.3L17.8 196.4M9.2 197.8L12.1 202.1L14.9 205.7L17.8 209.3M13.5 216.4L17.8 220.0L14.9 223.5L10.6 227.1M148.5 27.8L152.1 31.4L156.3 32.1L160.6 32.8L166.3 33.5L169.2 35.7L171.3 41.1M147.1 37.8L152.1 37.1L157.8 38.5L163.5 40.0L171.3 41.1L174.9 40.7L179.2 40.0M162.1 24.3L163.5 27.1L166.3 30.0L169.2 35.7M146.3 41.4L149.2 45.7L149.9 48.5L149.2 52.8L149.9 55.7M149.2 45.7L156.3 46.4L163.5 45.7L170.6 45.0L171.3 41.1M170.6 45.0L172.1 50.0L171.3 55.7M103.5 46.4L104.9 50.0L107.8 53.5L108.5 58.5M123.5 51.1L127.8 52.8L129.2 58.5M102.3 61.7L106.3 64.3L112.1 63.5L119.2 65.0L126.3 64.3L132.1 66.4L136.3 70.0L142.1 72.1L149.2 73.5M106.3 64.3L107.1 70.0L104.9 74.3L107.8 78.5L109.2 80.7M119.2 65.0L119.9 71.4L117.8 74.3L122.1 77.1L123.5 82.8M132.1 66.4L133.5 61.4L137.8 58.5M136.3 70.0L134.9 75.7L136.3 80.3M89.2 74.3L94.9 73.5L100.6 72.1L104.9 74.3M142.1 72.1L146.3 67.1L152.1 64.3L157.8 62.8L160.6 62.1M152.1 64.3L153.5 58.5M157.8 73.5L156.3 78.5L152.1 81.4L154.9 87.1L153.5 92.8L157.8 95.7L163.5 92.8L169.2 89.3M140.6 79.3L139.2 84.3L142.1 87.1L137.8 89.3L133.5 90.0M97.8 85.7L103.5 87.1L110.6 85.7L117.8 86.4L122.8 85.0L123.5 82.8M122.8 85.0L123.5 91.4L124.9 97.1L129.2 100.0L132.8 100.7M110.6 85.7L113.5 91.4L112.1 95.7L117.8 100.0L124.9 97.1M117.8 100.0L117.1 105.7L119.9 108.5L124.9 107.1L130.6 105.7L134.9 103.5M99.9 96.4L106.3 96.0L112.1 95.7M119.9 108.5L117.8 112.8L116.3 117.8M130.6 105.7L132.1 110.0L136.3 112.8L142.1 111.4L146.3 113.5L147.8 118.5M136.3 95.7L142.1 95.0L147.8 97.1L153.5 96.0L157.8 95.7M157.8 95.7L160.6 101.4L156.3 105.7L152.1 106.4M160.6 101.4L166.3 100.0L172.1 101.4L175.6 101.4M164.9 107.8L167.8 111.4L172.1 112.8M142.1 111.4L143.5 104.0M174.9 64.3L172.1 58.5M162.1 75.4L166.3 72.8L173.5 70.0M168.1 84.3L173.5 82.8L179.2 84.3M98.5 140.7L100.6 142.8L103.5 145.7L109.2 147.1L114.9 149.3L122.1 150.7L129.2 151.4L136.3 152.1L144.9 153.5L150.6 155.0L157.8 156.0L164.9 155.4L169.9 154.3M103.5 128.5L109.2 125.7L114.9 125.0L117.8 122.1M102.1 138.5L107.8 139.3L114.9 138.5L122.1 139.3L123.5 142.8L122.1 147.1L122.1 150.7M122.1 139.3L129.2 140.0L134.9 141.4L139.2 143.5M117.8 128.5L120.6 132.8L126.3 132.1L132.1 130.7L136.3 130.7M120.6 132.8L119.9 136.4L122.1 139.3M134.9 122.8L139.2 124.3L137.8 128.5L139.2 132.1M139.2 124.3L146.3 125.7L152.1 128.5L153.5 133.5M152.1 128.5L157.8 124.3L163.5 121.4L169.2 118.5M146.3 144.3L152.1 142.1L157.8 140.0L163.5 141.4L169.2 138.5L174.9 135.7L177.8 129.3M147.8 149.3L153.5 148.5L160.6 147.1L166.3 145.7L170.6 145.0M152.1 142.1L150.6 137.1L146.3 135.0M163.5 141.4L162.1 137.1L160.6 132.8M153.5 118.5L154.9 122.8L157.8 124.3M174.9 118.5L173.5 122.8L176.3 126.4M224.9 1.4L229.2 2.1L229.9 5.7L227.8 9.3L224.9 12.1L220.6 12.8L218.5 14.3M187.8 19.3L193.5 20.0L199.2 20.0L203.5 22.1L207.8 21.4L211.3 23.5L213.5 26.4L213.5 29.3L216.3 32.1L218.5 35.0L219.2 37.1L216.3 39.3L213.5 40.0L210.6 42.8L211.3 46.4L214.2 48.5L216.3 50.0M179.2 36.4L183.5 36.4L186.3 38.5L186.3 41.4L193.5 41.4M179.2 44.3L184.9 45.0L187.8 47.1L184.9 50.0L184.9 52.8L192.1 53.5L197.8 52.8L199.2 55.0M196.1 37.8L199.2 44.3L204.9 47.8L209.9 49.3L210.6 52.8L209.9 58.5M217.8 50.0L222.1 50.7L226.3 52.8L229.2 55.7L234.9 56.4L239.2 55.7L244.9 57.1L246.3 58.5M179.2 72.8L183.5 71.4L187.8 74.3L184.9 80.0L182.1 82.1L179.2 81.4M187.8 74.3L192.1 74.3M197.8 74.3L202.1 77.1L206.3 76.4L210.6 75.0L216.3 74.3L220.6 72.8L226.3 74.3L229.2 78.5L228.5 81.4M204.9 72.8L206.3 76.4M226.3 74.3L227.8 72.1M179.2 90.7L183.5 89.3L189.2 90.0L197.1 89.3M179.2 98.5L184.9 97.8L190.6 99.3L194.9 101.4M179.2 108.5L183.5 107.1L187.8 109.3L192.1 112.8L195.6 110.0M200.6 87.1L203.5 91.4L207.8 92.8L212.1 94.3L215.6 92.8M197.8 92.8L203.5 95.7L207.8 98.5L211.3 102.8M213.5 107.1L217.8 104.3L222.1 102.8L226.3 100.0L227.8 95.7M212.1 110.0L216.3 112.8L222.1 114.3L227.8 113.5L230.6 110.0L227.1 105.0M216.3 112.8L214.9 118.5M230.6 99.3L236.3 101.4L242.1 100.0L246.3 97.1L249.9 94.3M259.2 96.4L263.5 94.3L267.8 95.7L269.2 95.0M233.5 58.5L234.2 62.8L232.1 67.1L234.9 71.4L237.1 75.0M183.5 58.5L187.8 62.8L193.5 64.3L199.2 63.5M217.8 64.3L222.1 61.4L227.8 60.7L233.5 58.5M254.9 156.4L259.2 157.8L263.5 161.4L266.3 165.7M179.2 132.8L183.5 134.3L186.3 136.4L189.2 140.0M179.2 125.7L183.5 127.1L187.8 125.7L193.5 127.1M196.3 127.1L202.1 128.5L207.8 129.3L212.8 128.5M207.8 129.3L206.3 132.8L207.8 137.1M209.2 145.0L209.9 140.0L211.3 135.0M213.5 135.7L219.2 135.0L224.9 132.8L228.5 133.5L226.3 140.7M224.9 132.8L226.3 128.5L222.1 122.1M226.3 128.5L233.5 130.0L239.2 129.3L236.3 135.7M204.9 118.5L207.8 121.4L214.9 120.0L222.1 122.1M227.8 118.5L229.2 122.8L227.8 124.3M346.3 10.0L343.5 13.5L346.3 17.1L349.2 20.0L349.9 25.7L346.3 28.5L342.1 26.4L339.2 27.1L332.1 30.7L323.5 33.5L314.9 35.0L309.2 37.1L306.3 37.1L307.8 40.0L312.1 43.5L312.1 47.8L316.3 51.4L322.1 55.0L327.8 57.1L332.1 58.5M269.2 78.5L273.5 80.0L276.3 82.1L280.6 78.5L286.3 79.3L290.6 82.1L297.8 80.0L304.9 77.1L307.8 76.4M307.8 76.4L313.5 75.7L317.8 78.5L320.6 77.1L319.2 72.8L316.3 69.3M269.2 85.7L273.5 88.5L277.8 90.7L282.1 89.3M273.5 94.3L276.3 97.8M290.6 88.5L297.8 86.4L303.5 85.7L307.8 85.0L308.5 87.8L312.1 91.4L317.8 92.8L323.5 93.5L329.2 95.0L336.3 94.3L343.5 95.7L351.8 93.5M329.2 95.0L326.3 97.1L327.8 101.4L327.1 105.0M331.3 107.8L336.3 109.3L342.1 107.8L347.8 109.3L351.8 108.5"/>
<path class="b" d="M67.1 2.8L69.2 4.3L73.5 2.8L76.3 0.7M82.1 0.5L86.3 2.8L88.5 7.1L89.2 12.8L87.1 14.0M1.2 157.1L4.9 156.4L7.1 152.1L9.9 148.5L8.5 145.0L12.1 143.1L13.5 144.3M46.3 147.8L44.9 152.1L40.6 155.0L38.5 159.3L37.1 163.5L33.5 167.1L30.6 169.3L26.3 172.1L22.1 175.0L19.2 177.1L14.9 175.0L10.6 174.3L4.9 175.0L1.2 175.7M30.6 169.3L36.3 170.0L43.5 170.3L50.6 168.5L57.8 167.8L64.9 167.1L72.1 167.8L77.8 169.3L83.5 169.7L87.5 167.8L85.6 165.0L82.1 164.0L78.5 162.8M57.8 147.1L61.3 147.8L62.1 149.7L67.8 148.8L73.5 150.0L77.8 151.1L82.1 153.5L86.3 155.0L89.2 155.0M1.2 175.7L6.3 174.3L12.1 175.0L16.3 175.7L19.2 177.1L22.1 174.3M1.2 200.0L4.9 199.0L9.2 197.1L14.9 196.4L20.6 195.7L26.3 196.1L32.1 195.0L36.3 195.7L42.1 195.0L46.3 195.3L50.6 192.8L54.9 193.5L57.8 195.0L63.5 193.5L69.2 192.1L74.9 190.7L79.2 187.1L82.1 182.8L86.3 180.7L89.2 180.0M7.8 227.8L7.1 223.5L9.2 219.3L12.1 215.0L13.5 211.4L17.8 209.3L23.5 208.5L29.2 208.1L36.3 207.1L42.1 205.7L44.9 203.5L47.8 201.4L50.6 204.3L54.9 207.1L60.6 208.5L64.9 206.4L70.6 204.3L76.3 202.8L82.1 202.1L84.6 199.3L84.2 195.0L86.6 191.8M41.3 227.8L46.3 225.7L52.1 223.5L57.8 222.1L63.5 222.1L69.2 223.5L73.5 223.3L77.8 220.7L80.6 220.0L79.9 222.8M89.2 8.5L90.6 11.4L93.5 15.0L97.8 15.7L102.8 14.3L106.3 17.8L110.6 17.4L114.9 20.0L119.2 19.3L124.9 18.8L129.2 19.3M130.6 48.5L134.9 48.8L138.5 51.4L142.1 53.5L146.3 55.0L152.1 56.4L157.8 57.8L163.5 57.4L169.2 56.4L174.9 55.7L179.2 55.0M179.2 27.1L176.3 29.3L174.2 31.4L176.3 33.5L174.9 36.4L172.1 38.5L171.3 41.1M95.6 83.5L99.2 83.1L103.5 81.4L109.2 80.7L114.9 80.0L119.2 80.7L123.5 82.8L127.1 83.1L130.6 81.4L136.3 80.3L140.6 79.3L144.9 76.4L149.2 73.5L152.8 72.5L157.8 73.5L162.1 75.4L166.3 79.3L168.1 84.3L169.2 89.3L172.1 92.8L174.2 97.1L175.6 101.4L173.5 104.3L172.1 107.8L173.5 112.1L176.3 115.7L179.2 117.1M127.1 83.1L131.3 85.0L132.1 90.0L133.5 95.7L132.8 100.7L134.9 103.5L139.2 104.3L143.5 104.0L147.8 105.0L152.1 106.4M157.8 58.5L160.6 62.1L164.9 64.5L169.2 65.4L174.9 64.3L179.2 62.8M169.2 65.4L173.5 70.0L176.3 75.7L177.8 80.0L179.2 82.1M147.8 118.5L152.1 115.7L156.3 112.1L160.6 108.5L164.9 107.8M115.6 117.1L119.2 117.8M114.2 118.5L117.8 122.1L123.5 125.0L129.2 128.5L134.9 130.7L139.9 132.1L146.3 135.0L153.5 133.5L160.6 132.8L167.8 130.7L172.1 127.8L176.3 126.4L177.8 129.3M139.9 132.1L143.5 138.5L144.2 140.7L139.2 143.5L134.9 145.0L132.1 146.0L133.5 149.3L136.3 152.1M144.2 140.7L147.1 145.7L147.8 150.0L151.3 154.3L149.2 156.0L144.9 156.8L142.8 161.4L139.2 163.5L134.9 165.0L132.1 167.8L128.5 170.7L126.3 171.4M119.2 118.5L126.3 119.3L136.3 119.3L146.3 118.5M89.2 155.4L93.5 157.1L97.8 160.0L103.5 164.3L110.6 168.5L116.3 172.1L122.1 172.8L126.3 171.4L128.5 173.5L132.1 175.0L132.8 177.1L131.3 178.5M128.5 173.5L131.3 175.0L132.1 177.1L130.6 179.3L132.1 181.4L134.9 181.8M89.2 180.0L93.5 179.5L97.1 181.0L98.5 183.8M184.2 12.8L189.2 12.5L194.9 12.1L200.6 11.7L207.8 12.1L213.5 12.5L218.5 14.3L222.1 17.1L224.2 20.7L225.6 24.3L228.5 27.8L231.3 31.4L234.9 34.3L237.8 36.0L239.9 39.3L243.5 41.4L249.2 41.1L253.5 40.0L257.8 39.3L260.6 41.4L262.8 45.0L266.3 44.3L269.2 42.1M211.8 2.8L215.6 5.0L217.1 8.5L214.9 11.4L213.5 12.5M184.9 13.5L190.6 14.5L197.8 14.3L204.9 13.5L210.6 14.0L214.9 16.4L216.6 20.0L214.2 22.8L211.3 25.0L209.5 27.8L209.2 31.1L204.9 32.5L200.6 33.5L197.1 34.3L196.1 37.8L193.5 41.4L194.9 45.0L199.2 47.1L202.1 50.7L204.2 54.3L206.3 58.5M179.2 26.4L183.5 25.7L187.8 24.3L189.5 22.1L187.5 20.0M237.8 36.0L233.5 38.5L229.2 41.4L224.9 44.0L220.6 46.4L217.8 50.0L216.3 54.3L215.6 58.5M249.2 41.1L250.6 45.0L251.3 48.5L249.9 52.8L247.8 56.4L246.3 58.5M232.8 0.5L234.2 4.3L237.8 7.8L242.1 10.7L246.3 12.1L250.6 13.5L255.6 12.5M263.5 0.5L260.6 4.3L257.1 7.8L261.3 9.3L265.6 12.1L264.9 15.7L269.2 19.7M179.2 55.7L183.5 55.0L187.8 56.4L190.6 58.5M179.2 62.8L183.5 65.7L187.8 69.3L192.1 74.3L194.2 78.5M190.6 58.5L194.9 61.4L199.2 63.5L201.3 68.5L204.9 72.8M206.3 58.5L209.2 61.4L209.9 65.7L207.1 70.0L206.3 72.1M212.1 58.5L214.2 62.1L217.8 64.3L220.6 67.8L224.2 70.7L227.8 72.1M246.3 58.5L243.5 62.8L240.6 66.4L237.8 70.7L237.1 75.0L237.8 77.8L242.1 77.4L247.8 77.1L253.5 76.4L259.2 75.7M237.8 77.8L232.1 80.7L228.5 81.4L226.3 80.0L222.1 80.7L216.3 82.8L210.6 84.3L204.9 85.7L200.6 87.1L197.1 89.3L197.8 92.8L195.6 97.1L194.9 101.4L196.3 105.7L195.6 110.0L196.3 115.7L197.1 118.5M232.1 80.7L226.3 83.5L222.1 86.4L218.5 90.0L215.6 92.8M216.3 97.1L212.8 99.3L211.3 102.8L209.2 106.4L204.9 104.3L200.6 104.5L196.3 105.0M227.8 95.7L230.6 99.3L236.3 97.8L242.1 96.4L247.8 95.0L249.9 93.5L254.9 92.1L260.6 90.7L266.3 88.5L267.8 84.3L267.1 81.4L269.2 80.0M246.3 70.0L250.6 72.8L256.3 72.1L262.1 70.7L266.3 68.5L269.2 67.8M249.9 94.3L254.9 95.0L259.2 96.4L258.5 100.0L257.1 99.3M253.5 105.7L254.9 109.3L259.2 112.8L264.9 114.3L269.2 115.7M227.1 105.0L232.1 105.7L237.8 105.0L241.3 107.8L243.5 112.1L240.6 115.7L239.2 118.5M179.2 84.3L182.8 85.0M222.1 118.5L224.9 117.1M196.3 118.5L194.9 122.8L193.5 127.1L194.9 131.4L192.1 135.7L189.2 139.7M192.1 135.7L194.2 138.5M194.9 131.4L199.2 134.3L203.5 136.4L207.8 137.1L211.3 135.0L213.5 132.1L212.8 128.5L214.9 125.7L219.2 124.3L222.1 122.1L223.5 118.5M179.2 118.5L181.3 122.1L182.8 123.5M227.8 124.3L232.1 125.0L236.3 124.3L239.2 121.4L238.5 118.5M304.9 0.5L304.2 4.3L300.6 7.1L299.9 10.0L303.5 12.1L309.2 12.8L314.9 12.8L318.5 16.4L323.5 20.7L327.8 24.0L333.5 25.7L339.2 27.8L336.3 32.1L339.2 34.3L343.5 37.8L347.8 39.3L351.8 39.3M269.2 20.0L273.5 21.4L278.5 24.5L274.9 27.1L275.6 29.3L279.2 29.7L280.6 32.8L284.9 34.5L289.2 34.3M269.2 40.7L273.5 43.5L276.3 45.7L277.8 41.4L282.1 40.7L287.1 41.4L290.6 38.5L294.9 39.3L298.5 41.4L298.5 44.3M342.1 0.5L344.9 2.8L343.5 6.4L346.3 10.0L351.8 9.7M344.9 2.8L351.8 1.4M339.2 34.3L341.3 40.0L339.9 44.3L337.8 48.5L339.9 52.8L340.6 58.5M301.3 57.8L305.6 55.7L310.6 56.4L314.9 57.8M327.8 56.4L332.1 57.1M269.2 67.8L274.9 65.7L282.1 62.8L289.2 61.1L294.9 60.0L299.9 59.3M316.3 58.5L320.6 61.4L326.3 62.8L332.1 64.3L337.8 66.4L343.5 67.8L349.2 68.8L351.8 68.3M326.3 62.8L323.5 66.4L317.8 67.8L312.1 68.5L308.5 70.0L306.6 72.8L307.8 76.4L303.5 78.5L297.8 80.7L290.6 82.1L284.9 83.5L282.1 86.4L277.8 90.7L273.5 94.3L269.2 97.1M332.1 58.5L334.9 61.1L339.2 61.7L340.6 58.5M327.5 84.3L332.1 85.4L337.8 85.0L343.5 84.3L347.8 82.1L351.8 80.7M308.5 87.8L313.5 88.5L319.2 90.7L326.3 89.7L332.1 92.1L337.8 93.1L343.5 92.5L349.2 92.8L351.8 92.8M282.1 89.3L284.9 91.4L290.6 91.7L294.2 94.3L292.8 98.5L291.3 102.8L289.2 107.1L284.9 110.0L284.9 113.5L289.2 115.0L294.9 114.0L300.6 115.0L306.3 115.4L310.6 117.1L312.1 118.5M269.2 115.7L274.9 116.4L280.6 117.8L284.9 115.0M304.9 135.7L307.1 139.3L309.9 142.1L311.8 145.0L310.6 149.3L307.8 151.7L309.9 155.0L312.8 157.1L314.6 160.0L312.8 163.5L309.2 165.4M297.8 118.5L299.2 119.0"/>
<path class="k" d="M0.6 13.5L4.2 11.4L8.5 9.7L13.5 8.8L17.8 8.3L22.8 8.0L27.1 7.4L28.9 4.3L29.8 0.5M62.1 0.5L62.1 3.5L59.2 7.1L53.5 9.3L47.8 11.1L42.8 12.8L42.1 14.0L46.3 14.5L48.5 16.4L53.5 16.0L57.8 15.7L62.1 16.8L66.3 17.8L70.6 20.0L74.9 20.0L79.2 18.5L83.5 16.4L87.1 14.0L89.2 12.1M79.2 18.5L77.8 22.5L72.1 23.1L66.3 22.8L59.9 23.1L57.8 25.7L54.9 27.1L52.8 30.7L48.5 33.5L44.9 36.0L40.6 38.3L37.1 39.3L36.6 40.7L39.9 41.1L42.8 40.3L44.9 41.4L47.1 39.3L52.1 36.4L59.2 36.0L63.5 36.4L66.3 37.8L69.2 36.0L70.6 32.1L74.9 30.7L80.6 30.0L84.9 32.1L89.2 32.1M83.5 49.3L85.8 49.5M89.2 60.7L84.9 62.1L82.1 63.5L79.2 60.7L74.9 59.3L70.6 59.7L67.8 60.7L63.5 60.3L59.2 61.1L54.9 61.7L51.3 63.1L50.6 65.0L53.5 66.4L56.3 65.7L59.2 66.8L54.9 68.5L52.1 70.7L56.3 71.4L57.8 74.3L62.1 73.5L66.3 74.5L70.6 75.7L74.9 76.4L77.8 77.8L82.1 77.1L86.3 79.3L85.6 81.4L89.2 82.8M54.2 66.4L58.5 66.8L57.8 67.8L54.2 67.4L54.2 66.4M74.2 80.8L77.1 81.8M1.2 136.4L4.9 135.7L9.2 136.0L13.5 138.5L17.8 138.8L23.5 138.3L29.2 138.3L34.2 137.1L37.8 138.8L43.5 139.7L49.2 140.7L56.3 141.1L62.1 140.7L67.8 139.7L72.1 140.7L76.3 141.7L80.6 140.3L84.9 141.4L89.2 142.8M149.9 0.5L150.3 4.3L148.5 8.5L144.9 11.4L140.6 12.1L137.8 14.3L134.9 15.7L136.3 17.1L132.1 18.8L129.2 19.3L132.1 18.8L136.3 20.7L144.2 20.3L144.6 22.1L142.8 24.5L137.8 26.4L132.1 28.5L126.3 29.7L120.6 29.3L114.9 29.0L110.6 28.8L106.3 29.3L103.5 28.5L99.2 30.3L93.5 31.1L89.2 32.1M101.3 29.3L103.5 27.8L107.1 29.3L109.2 28.8L106.3 31.1L103.5 32.5L101.3 31.1L101.3 29.3M179.2 18.5L174.9 19.7L169.2 21.7L162.1 24.3L153.5 26.4L148.5 27.8L147.1 30.7L146.6 35.7L147.1 37.8L144.2 40.0L137.8 42.1L130.6 44.3L126.3 45.7L124.9 47.8L127.1 50.0L130.6 48.5M124.9 47.8L123.5 51.1L117.8 52.1L110.6 51.4L104.9 50.0L103.5 46.4L99.2 46.0L94.2 46.0L96.3 48.5L98.5 52.8L99.5 58.5M174.9 19.7L177.1 17.1L179.2 16.4M89.2 62.5L92.8 61.1L96.3 61.7L99.5 58.8L100.6 61.1L102.3 61.7M89.2 82.1L93.5 81.7L95.6 83.5L92.1 85.0L89.9 84.3L90.6 87.1L93.5 90.0L97.1 93.5L99.9 96.4L103.5 97.8L106.3 100.0L104.2 102.1L107.1 105.0L108.5 107.8L110.6 110.0L112.8 113.5L114.9 116.4L116.3 117.8L117.8 118.5M102.8 97.1L105.6 98.5L106.3 101.4M105.6 105.7L106.1 110.0L105.2 114.3L104.6 118.5M104.6 118.5L104.2 122.8L103.5 128.5L102.1 134.3L100.6 138.5L98.5 140.7L93.5 141.7L89.2 142.8M104.9 120.3L106.3 121.7M179.2 140.7L174.9 142.8L170.6 145.0L169.2 148.5L169.9 152.8L172.1 156.4L171.3 160.0L172.1 163.5L167.8 166.4L160.6 169.3L153.5 172.1L146.3 174.3L139.2 176.4L136.3 178.5M153.5 173.5L146.3 174.7L139.2 177.1L134.9 180.0L135.6 182.1L132.8 183.5L130.6 185.0L126.3 190.0L122.1 195.0L118.5 200.0L119.2 204.3L121.3 207.8L124.9 210.0L126.6 211.4L123.5 213.5L118.5 215.3L114.9 217.8L112.8 222.1L110.6 226.4L110.6 227.8M158.5 199.0L162.1 196.1L166.3 194.7L170.6 193.5L172.1 195.7L174.9 196.4L175.6 199.3L172.1 202.1L169.2 203.5L166.3 201.4L162.1 200.7L158.5 199.0M142.1 208.5L144.2 206.4L147.1 206.1L147.8 207.8L144.9 210.0L142.1 209.3L142.1 208.5M193.5 0.5L192.8 4.3L190.6 7.8L187.1 10.7L184.2 12.8L182.1 14.3L179.2 15.4M179.2 16.4L183.5 15.7L186.3 17.1L183.5 18.5L179.2 18.3M179.2 20.0L184.9 19.3L187.5 20.0L184.9 21.4L179.2 21.4M200.6 1.1L207.8 0.5L211.8 2.8L209.9 5.0L204.9 6.8L200.6 5.7L198.9 4.0L200.6 1.1M179.2 140.7L183.5 139.3L187.8 140.0L192.1 141.4L196.3 141.1L200.6 140.7L204.9 143.5L209.2 145.0L213.5 146.0L217.8 146.4L221.3 145.7L223.5 142.8L226.3 140.7L230.6 137.8L236.3 135.7L242.1 134.5L246.3 132.8L249.2 129.3L253.5 126.4L259.2 125.7L264.9 127.1L269.2 128.5M264.9 147.1L266.3 148.5L266.1 151.4L267.1 154.3L267.5 160.0L266.3 165.7L264.2 170.0L262.1 172.1L259.2 170.7L257.1 167.8L255.6 164.3L253.5 161.4L252.8 157.1L254.9 154.3L259.2 152.1L263.5 151.1L264.6 148.5L264.9 147.1M262.1 172.1L264.9 173.5L268.5 175.0L269.2 175.7M246.3 178.5L247.8 176.4L249.9 175.4M180.6 192.1L183.5 191.4L187.1 191.8L188.9 193.5L187.8 195.0L184.2 194.3L181.3 193.5L180.6 192.1M264.9 173.5L260.6 175.7L256.3 177.8L252.1 179.3L249.2 176.4L247.1 178.5L246.3 182.1L247.8 185.0L249.9 187.8L250.6 192.1L249.2 195.0L251.3 197.1L250.6 200.7L249.2 204.3L250.6 207.1L253.5 208.5L257.8 207.8L259.9 205.7L260.6 204.3M287.1 103.5L284.9 106.4L282.8 108.5L284.2 109.7L286.3 107.1L287.8 104.3L287.1 103.5M307.8 112.1L310.6 110.0L314.9 108.5L319.2 107.1L322.8 105.0L326.3 106.4L329.2 105.7L331.3 107.8L329.2 110.0L328.5 113.5L330.6 116.4L332.1 118.5M307.8 112.1L309.2 115.0L312.1 117.1M339.2 112.8L342.1 111.7L346.3 113.5L347.8 117.1L344.9 118.5M340.6 114.3L343.5 113.5L344.9 115.7L342.8 117.1L340.6 116.4L340.6 114.3M269.2 130.0L273.5 131.1L277.8 133.5L279.2 138.5L282.1 142.1L282.8 147.1L285.6 148.5L288.5 151.4L292.1 155.0L296.3 156.4L300.6 159.3L304.9 162.8L308.5 165.7L312.1 168.5L316.3 170.7L320.6 173.1L326.3 172.8L330.6 174.3L333.5 177.1L334.9 178.5M309.9 118.5L308.5 121.4L309.2 125.7L312.1 129.3L316.3 132.1L322.1 135.0L327.8 137.8L331.3 142.8L333.5 148.5L336.3 152.8L340.6 156.4L346.3 160.7L351.8 162.8M339.2 121.4L342.1 123.5M344.9 120.0L349.2 124.3L351.8 127.1M346.3 127.1L350.6 131.4M340.6 122.8L343.5 125.7M302.9 152.5L304.3 152.5L304.3 153.7L302.9 153.7L302.9 152.5M332.1 173.5L333.5 177.1L336.3 180.0L340.6 180.7L344.9 182.8L347.8 185.7L349.2 188.5L351.8 190.0M318.2 177.7L320.2 178.7M338.1 183.5L340.1 184.0M269.2 179.3L271.3 181.4L272.1 185.0L269.9 187.8L269.2 189.3M269.2 190.7L269.9 197.1M311.6 227.8L311.6 224.0L315.4 222.6L320.2 222.1L325.9 222.6L330.6 223.1L335.4 222.1L339.2 221.6L344.0 221.2L347.8 220.7L351.1 221.2M347.3 213.8L350.2 216.7"/>
<path class="K" d="M26.8 41.8L27.9 42.4M45.6 64.3L46.5 64.8M87.1 91.1L88.9 91.1M88.3 86.1L89.2 86.7M33.5 195.3L37.8 195.7L42.1 195.0L44.9 195.4M81.8 183.5L82.8 185.7L84.9 186.1M44.9 203.5L47.8 201.4L49.9 203.3M167.2 205.0L167.8 205.7M144.2 212.1L146.3 212.7M216.3 97.1L219.2 95.0L223.5 94.3L227.8 95.7M258.5 75.7L261.3 75.0L264.9 76.8L268.5 78.5L269.2 80.0M257.1 99.3L254.9 101.4L252.8 103.5L253.5 105.7M262.1 173.5L264.9 175.0L268.5 177.8L269.2 179.3M310.9 4.8L311.8 5.3M318.5 5.3L319.3 5.5M321.9 3.8L322.8 4.3M329.5 4.3L330.1 4.8M337.6 10.0L338.5 10.5M340.3 16.4L340.9 17.1M309.2 109.7L312.1 108.8M331.3 119.0L332.8 119.7M276.3 150.3L279.9 150.3M271.3 146.1L272.1 146.7M272.5 140.4L273.1 141.0M275.3 152.8L275.9 153.4M278.2 156.5L278.8 157.1M287.3 156.5L288.2 157.1M290.6 156.0L292.1 156.8M326.1 179.7L326.8 180.3M339.7 214.3L340.6 214.7M343.5 213.6L344.2 214.0M321.8 211.9L322.3 212.3M89.4 53.0L92.6 53.3M83.5 49.0L85.8 49.5M89.5 45.8L90.2 45.9"/>
</svg>
<text class="n" x="321.69 325.71 329.72 335.74 345.10 347.77 353.79 357.80 360.48 367.17 369.84 373.85 376.53 379.20 385.22 389.90 392.58 399.26 403.28 409.29 414.64 417.32 423.34 429.35 435.37 438.05 444.73 450.08 452.76 458.78 465.46 473.49 482.85" y="254.40">from grib files provided by ECMWF</text>
<text class="n" x="378.53 387.89 393.91 399.93 405.95 411.97 414.64 419.32 426.01 435.37 438.05 442.06 444.73 450.08 456.10 462.12 468.14 471.48 477.50 483.52" y="273.60">©2026 sb@irizone.net</text>
<rect class="f" x="141.00" y="49.40" width="352.10" height="228.00"/>
</g>
<g id="panel2">
<text class="t" x="11.09 15.10 22.45 30.48 34.49 39.17 43.18 50.54 56.56 64.58 72.61 80.63 88.65 92.00 96.01 99.35 104.70 108.72 116.74 123.43 127.44 132.79 140.14 145.49 153.52 157.53 161.54 169.57 175.59 183.61 190.30 194.31 202.33 205.68 211.03 219.05 224.40 228.41 236.44 244.46 248.47 256.50 264.52 272.55 276.56 287.26 291.27 299.30 307.32 311.33 324.04 336.74 340.75 344.77 348.78 356.80 360.15 365.50 369.51 373.52 381.55 389.57 397.59 405.62 413.64 421.67 429.69 437.72 441.73 449.75 457.78 464.46 468.48 473.16 477.17 485.86 493.89 497.90 501.91 509.94 513.95 517.96 525.98 534.01 542.03 550.06 558.08 566.11 574.13 582.16 586.17 594.19 602.22 606.23 614.25" y="291.75">IFS - Probabilities total precipitation/24h &gt; 50 mm, Init: 20260206 12z - Valid: 20260214:00 TU</text>
<rect x="158.50" y="304.65" width="35.31" height="7.30" fill="#ffff00"/><rect x="193.76" y="304.65" width="35.31" height="7.30" fill="#ffdc00"/><rect x="229.01" y="304.65" width="35.31" height="7.30" fill="#ffb400"/><rect x="264.27" y="304.65" width="35.31" height="7.30" fill="#ff9300"/><rect x="299.52" y="304.65" width="35.31" height="7.30" fill="#ff6600"/><rect x="334.78" y="304.65" width="35.31" height="7.30" fill="#ff1900"/><rect x="370.03" y="304.65" width="35.31" height="7.30" fill="#d40000"/><rect x="405.29" y="304.65" width="35.31" height="7.30" fill="#960000"/><rect x="440.54" y="304.65" width="35.31" height="7.30" fill="#640000"/>
<path d="M193.76 304.65V311.95M229.01 304.65V311.95M264.27 304.65V311.95M299.52 304.65V311.95M334.78 304.65V311.95M370.03 304.65V311.95M405.29 304.65V311.95M440.54 304.65V311.95" stroke="#000" stroke-width=".6" fill="none"/>
<rect x="158.50" y="304.65" width="317.30" height="7.30" fill="none" stroke="#000" stroke-width=".8"/>
<text class="c" x="152.48 158.50" y="300.10">10</text><text class="c" x="187.74 193.76" y="300.10">25</text><text class="c" x="222.99 229.01" y="300.10">40</text><text class="c" x="258.25 264.27" y="300.10">50</text><text class="c" x="293.50 299.52" y="300.10">60</text><text class="c" x="328.76 334.78" y="300.10">70</text><text class="c" x="364.02 370.03" y="300.10">80</text><text class="c" x="399.27 405.29" y="300.10">90</text><text class="c" x="434.53 440.54" y="300.10">95</text><text class="c" x="466.77 472.79 478.81" y="300.10">100</text>
<svg x="140.80" y="317.90" width="352.10" height="228.00" viewBox="0 0 352.10 228.00" overflow="hidden">
<rect width="352.10" height="228.00" fill="#fff"/>
<clipPath id="c1_0"><rect x="-2.80" y="152.10" width="40.00" height="40.00"/></clipPath>
<g clip-path="url(#c1_0)"><rect x="-2.80" y="152.10" width="40.00" height="40.00" fill="#fff"/>
<path d="M-0.9 162.6L1.0 162.9L2.3 163.5L4.2 165.1L5.5 168.0L6.0 171.1L5.5 174.3L3.5 176.9L2.6 179.4L2.9 181.9L3.2 183.5L1.6 183.8L-0.9 183.2Z" fill="#ffff00"/>
<path d="M4.8 183.8L6.7 183.5L8.3 184.2L8.0 185.1L5.1 185.1Z" fill="#ffff00"/>
</g>
<path class="g" d="M68.5 60.7L68.9 65.0L69.2 68.5L73.5 68.8L79.2 68.5L84.9 69.7L89.2 70.7M69.2 68.5L67.8 71.4L70.6 72.8L70.6 75.7M1.2 164.3L6.3 164.0L10.6 164.5L14.9 162.8L20.6 162.8L24.2 164.3L24.9 167.1L27.8 168.3L30.6 169.3M19.2 177.1L19.9 182.1L19.9 187.1L17.1 190.0L18.5 194.3L17.8 196.4M9.2 197.8L12.1 202.1L14.9 205.7L17.8 209.3M13.5 216.4L17.8 220.0L14.9 223.5L10.6 227.1M148.5 27.8L152.1 31.4L156.3 32.1L160.6 32.8L166.3 33.5L169.2 35.7L171.3 41.1M147.1 37.8L152.1 37.1L157.8 38.5L163.5 40.0L171.3 41.1L174.9 40.7L179.2 40.0M162.1 24.3L163.5 27.1L166.3 30.0L169.2 35.7M146.3 41.4L149.2 45.7L149.9 48.5L149.2 52.8L149.9 55.7M149.2 45.7L156.3 46.4L163.5 45.7L170.6 45.0L171.3 41.1M170.6 45.0L172.1 50.0L171.3 55.7M103.5 46.4L104.9 50.0L107.8 53.5L108.5 58.5M123.5 51.1L127.8 52.8L129.2 58.5M102.3 61.7L106.3 64.3L112.1 63.5L119.2 65.0L126.3 64.3L132.1 66.4L136.3 70.0L142.1 72.1L149.2 73.5M106.3 64.3L107.1 70.0L104.9 74.3L107.8 78.5L109.2 80.7M119.2 65.0L119.9 71.4L117.8 74.3L122.1 77.1L123.5 82.8M132.1 66.4L133.5 61.4L137.8 58.5M136.3 70.0L134.9 75.7L136.3 80.3M89.2 74.3L94.9 73.5L100.6 72.1L104.9 74.3M142.1 72.1L146.3 67.1L152.1 64.3L157.8 62.8L160.6 62.1M152.1 64.3L153.5 58.5M157.8 73.5L156.3 78.5L152.1 81.4L154.9 87.1L153.5 92.8L157.8 95.7L163.5 92.8L169.2 89.3M140.6 79.3L139.2 84.3L142.1 87.1L137.8 89.3L133.5 90.0M97.8 85.7L103.5 87.1L110.6 85.7L117.8 86.4L122.8 85.0L123.5 82.8M122.8 85.0L123.5 91.4L124.9 97.1L129.2 100.0L132.8 100.7M110.6 85.7L113.5 91.4L112.1 95.7L117.8 100.0L124.9 97.1M117.8 100.0L117.1 105.7L119.9 108.5L124.9 107.1L130.6 105.7L134.9 103.5M99.9 96.4L106.3 96.0L112.1 95.7M119.9 108.5L117.8 112.8L116.3 117.8M130.6 105.7L132.1 110.0L136.3 112.8L142.1 111.4L146.3 113.5L147.8 118.5M136.3 95.7L142.1 95.0L147.8 97.1L153.5 96.0L157.8 95.7M157.8 95.7L160.6 101.4L156.3 105.7L152.1 106.4M160.6 101.4L166.3 100.0L172.1 101.4L175.6 101.4M164.9 107.8L167.8 111.4L172.1 112.8M142.1 111.4L143.5 104.0M174.9 64.3L172.1 58.5M162.1 75.4L166.3 72.8L173.5 70.0M168.1 84.3L173.5 82.8L179.2 84.3M98.5 140.7L100.6 142.8L103.5 145.7L109.2 147.1L114.9 149.3L122.1 150.7L129.2 151.4L136.3 152.1L144.9 153.5L150.6 155.0L157.8 156.0L164.9 155.4L169.9 154.3M103.5 128.5L109.2 125.7L114.9 125.0L117.8 122.1M102.1 138.5L107.8 139.3L114.9 138.5L122.1 139.3L123.5 142.8L122.1 147.1L122.1 150.7M122.1 139.3L129.2 140.0L134.9 141.4L139.2 143.5M117.8 128.5L120.6 132.8L126.3 132.1L132.1 130.7L136.3 130.7M120.6 132.8L119.9 136.4L122.1 139.3M134.9 122.8L139.2 124.3L137.8 128.5L139.2 132.1M139.2 124.3L146.3 125.7L152.1 128.5L153.5 133.5M152.1 128.5L157.8 124.3L163.5 121.4L169.2 118.5M146.3 144.3L152.1 142.1L157.8 140.0L163.5 141.4L169.2 138.5L174.9 135.7L177.8 129.3M147.8 149.3L153.5 148.5L160.6 147.1L166.3 145.7L170.6 145.0M152.1 142.1L150.6 137.1L146.3 135.0M163.5 141.4L162.1 137.1L160.6 132.8M153.5 118.5L154.9 122.8L157.8 124.3M174.9 118.5L173.5 122.8L176.3 126.4M224.9 1.4L229.2 2.1L229.9 5.7L227.8 9.3L224.9 12.1L220.6 12.8L218.5 14.3M187.8 19.3L193.5 20.0L199.2 20.0L203.5 22.1L207.8 21.4L211.3 23.5L213.5 26.4L213.5 29.3L216.3 32.1L218.5 35.0L219.2 37.1L216.3 39.3L213.5 40.0L210.6 42.8L211.3 46.4L214.2 48.5L216.3 50.0M179.2 36.4L183.5 36.4L186.3 38.5L186.3 41.4L193.5 41.4M179.2 44.3L184.9 45.0L187.8 47.1L184.9 50.0L184.9 52.8L192.1 53.5L197.8 52.8L199.2 55.0M196.1 37.8L199.2 44.3L204.9 47.8L209.9 49.3L210.6 52.8L209.9 58.5M217.8 50.0L222.1 50.7L226.3 52.8L229.2 55.7L234.9 56.4L239.2 55.7L244.9 57.1L246.3 58.5M179.2 72.8L183.5 71.4L187.8 74.3L184.9 80.0L182.1 82.1L179.2 81.4M187.8 74.3L192.1 74.3M197.8 74.3L202.1 77.1L206.3 76.4L210.6 75.0L216.3 74.3L220.6 72.8L226.3 74.3L229.2 78.5L228.5 81.4M204.9 72.8L206.3 76.4M226.3 74.3L227.8 72.1M179.2 90.7L183.5 89.3L189.2 90.0L197.1 89.3M179.2 98.5L184.9 97.8L190.6 99.3L194.9 101.4M179.2 108.5L183.5 107.1L187.8 109.3L192.1 112.8L195.6 110.0M200.6 87.1L203.5 91.4L207.8 92.8L212.1 94.3L215.6 92.8M197.8 92.8L203.5 95.7L207.8 98.5L211.3 102.8M213.5 107.1L217.8 104.3L222.1 102.8L226.3 100.0L227.8 95.7M212.1 110.0L216.3 112.8L222.1 114.3L227.8 113.5L230.6 110.0L227.1 105.0M216.3 112.8L214.9 118.5M230.6 99.3L236.3 101.4L242.1 100.0L246.3 97.1L249.9 94.3M259.2 96.4L263.5 94.3L267.8 95.7L269.2 95.0M233.5 58.5L234.2 62.8L232.1 67.1L234.9 71.4L237.1 75.0M183.5 58.5L187.8 62.8L193.5 64.3L199.2 63.5M217.8 64.3L222.1 61.4L227.8 60.7L233.5 58.5M254.9 156.4L259.2 157.8L263.5 161.4L266.3 165.7M179.2 132.8L183.5 134.3L186.3 136.4L189.2 140.0M179.2 125.7L183.5 127.1L187.8 125.7L193.5 127.1M196.3 127.1L202.1 128.5L207.8 129.3L212.8 128.5M207.8 129.3L206.3 132.8L207.8 137.1M209.2 145.0L209.9 140.0L211.3 135.0M213.5 135.7L219.2 135.0L224.9 132.8L228.5 133.5L226.3 140.7M224.9 132.8L226.3 128.5L222.1 122.1M226.3 128.5L233.5 130.0L239.2 129.3L236.3 135.7M204.9 118.5L207.8 121.4L214.9 120.0L222.1 122.1M227.8 118.5L229.2 122.8L227.8 124.3M346.3 10.0L343.5 13.5L346.3 17.1L349.2 20.0L349.9 25.7L346.3 28.5L342.1 26.4L339.2 27.1L332.1 30.7L323.5 33.5L314.9 35.0L309.2 37.1L306.3 37.1L307.8 40.0L312.1 43.5L312.1 47.8L316.3 51.4L322.1 55.0L327.8 57.1L332.1 58.5M269.2 78.5L273.5 80.0L276.3 82.1L280.6 78.5L286.3 79.3L290.6 82.1L297.8 80.0L304.9 77.1L307.8 76.4M307.8 76.4L313.5 75.7L317.8 78.5L320.6 77.1L319.2 72.8L316.3 69.3M269.2 85.7L273.5 88.5L277.8 90.7L282.1 89.3M273.5 94.3L276.3 97.8M290.6 88.5L297.8 86.4L303.5 85.7L307.8 85.0L308.5 87.8L312.1 91.4L317.8 92.8L323.5 93.5L329.2 95.0L336.3 94.3L343.5 95.7L351.8 93.5M329.2 95.0L326.3 97.1L327.8 101.4L327.1 105.0M331.3 107.8L336.3 109.3L342.1 107.8L347.8 109.3L351.8 108.5"/>
<path class="b" d="M67.1 2.8L69.2 4.3L73.5 2.8L76.3 0.7M82.1 0.5L86.3 2.8L88.5 7.1L89.2 12.8L87.1 14.0M1.2 157.1L4.9 156.4L7.1 152.1L9.9 148.5L8.5 145.0L12.1 143.1L13.5 144.3M46.3 147.8L44.9 152.1L40.6 155.0L38.5 159.3L37.1 163.5L33.5 167.1L30.6 169.3L26.3 172.1L22.1 175.0L19.2 177.1L14.9 175.0L10.6 174.3L4.9 175.0L1.2 175.7M30.6 169.3L36.3 170.0L43.5 170.3L50.6 168.5L57.8 167.8L64.9 167.1L72.1 167.8L77.8 169.3L83.5 169.7L87.5 167.8L85.6 165.0L82.1 164.0L78.5 162.8M57.8 147.1L61.3 147.8L62.1 149.7L67.8 148.8L73.5 150.0L77.8 151.1L82.1 153.5L86.3 155.0L89.2 155.0M1.2 175.7L6.3 174.3L12.1 175.0L16.3 175.7L19.2 177.1L22.1 174.3M1.2 200.0L4.9 199.0L9.2 197.1L14.9 196.4L20.6 195.7L26.3 196.1L32.1 195.0L36.3 195.7L42.1 195.0L46.3 195.3L50.6 192.8L54.9 193.5L57.8 195.0L63.5 193.5L69.2 192.1L74.9 190.7L79.2 187.1L82.1 182.8L86.3 180.7L89.2 180.0M7.8 227.8L7.1 223.5L9.2 219.3L12.1 215.0L13.5 211.4L17.8 209.3L23.5 208.5L29.2 208.1L36.3 207.1L42.1 205.7L44.9 203.5L47.8 201.4L50.6 204.3L54.9 207.1L60.6 208.5L64.9 206.4L70.6 204.3L76.3 202.8L82.1 202.1L84.6 199.3L84.2 195.0L86.6 191.8M41.3 227.8L46.3 225.7L52.1 223.5L57.8 222.1L63.5 222.1L69.2 223.5L73.5 223.3L77.8 220.7L80.6 220.0L79.9 222.8M89.2 8.5L90.6 11.4L93.5 15.0L97.8 15.7L102.8 14.3L106.3 17.8L110.6 17.4L114.9 20.0L119.2 19.3L124.9 18.8L129.2 19.3M130.6 48.5L134.9 48.8L138.5 51.4L142.1 53.5L146.3 55.0L152.1 56.4L157.8 57.8L163.5 57.4L169.2 56.4L174.9 55.7L179.2 55.0M179.2 27.1L176.3 29.3L174.2 31.4L176.3 33.5L174.9 36.4L172.1 38.5L171.3 41.1M95.6 83.5L99.2 83.1L103.5 81.4L109.2 80.7L114.9 80.0L119.2 80.7L123.5 82.8L127.1 83.1L130.6 81.4L136.3 80.3L140.6 79.3L144.9 76.4L149.2 73.5L152.8 72.5L157.8 73.5L162.1 75.4L166.3 79.3L168.1 84.3L169.2 89.3L172.1 92.8L174.2 97.1L175.6 101.4L173.5 104.3L172.1 107.8L173.5 112.1L176.3 115.7L179.2 117.1M127.1 83.1L131.3 85.0L132.1 90.0L133.5 95.7L132.8 100.7L134.9 103.5L139.2 104.3L143.5 104.0L147.8 105.0L152.1 106.4M157.8 58.5L160.6 62.1L164.9 64.5L169.2 65.4L174.9 64.3L179.2 62.8M169.2 65.4L173.5 70.0L176.3 75.7L177.8 80.0L179.2 82.1M147.8 118.5L152.1 115.7L156.3 112.1L160.6 108.5L164.9 107.8M115.6 117.1L119.2 117.8M114.2 118.5L117.8 122.1L123.5 125.0L129.2 128.5L134.9 130.7L139.9 132.1L146.3 135.0L153.5 133.5L160.6 132.8L167.8 130.7L172.1 127.8L176.3 126.4L177.8 129.3M139.9 132.1L143.5 138.5L144.2 140.7L139.2 143.5L134.9 145.0L132.1 146.0L133.5 149.3L136.3 152.1M144.2 140.7L147.1 145.7L147.8 150.0L151.3 154.3L149.2 156.0L144.9 156.8L142.8 161.4L139.2 163.5L134.9 165.0L132.1 167.8L128.5 170.7L126.3 171.4M119.2 118.5L126.3 119.3L136.3 119.3L146.3 118.5M89.2 155.4L93.5 157.1L97.8 160.0L103.5 164.3L110.6 168.5L116.3 172.1L122.1 172.8L126.3 171.4L128.5 173.5L132.1 175.0L132.8 177.1L131.3 178.5M128.5 173.5L131.3 175.0L132.1 177.1L130.6 179.3L132.1 181.4L134.9 181.8M89.2 180.0L93.5 179.5L97.1 181.0L98.5 183.8M184.2 12.8L189.2 12.5L194.9 12.1L200.6 11.7L207.8 12.1L213.5 12.5L218.5 14.3L222.1 17.1L224.2 20.7L225.6 24.3L228.5 27.8L231.3 31.4L234.9 34.3L237.8 36.0L239.9 39.3L243.5 41.4L249.2 41.1L253.5 40.0L257.8 39.3L260.6 41.4L262.8 45.0L266.3 44.3L269.2 42.1M211.8 2.8L215.6 5.0L217.1 8.5L214.9 11.4L213.5 12.5M184.9 13.5L190.6 14.5L197.8 14.3L204.9 13.5L210.6 14.0L214.9 16.4L216.6 20.0L214.2 22.8L211.3 25.0L209.5 27.8L209.2 31.1L204.9 32.5L200.6 33.5L197.1 34.3L196.1 37.8L193.5 41.4L194.9 45.0L199.2 47.1L202.1 50.7L204.2 54.3L206.3 58.5M179.2 26.4L183.5 25.7L187.8 24.3L189.5 22.1L187.5 20.0M237.8 36.0L233.5 38.5L229.2 41.4L224.9 44.0L220.6 46.4L217.8 50.0L216.3 54.3L215.6 58.5M249.2 41.1L250.6 45.0L251.3 48.5L249.9 52.8L247.8 56.4L246.3 58.5M232.8 0.5L234.2 4.3L237.8 7.8L242.1 10.7L246.3 12.1L250.6 13.5L255.6 12.5M263.5 0.5L260.6 4.3L257.1 7.8L261.3 9.3L265.6 12.1L264.9 15.7L269.2 19.7M179.2 55.7L183.5 55.0L187.8 56.4L190.6 58.5M179.2 62.8L183.5 65.7L187.8 69.3L192.1 74.3L194.2 78.5M190.6 58.5L194.9 61.4L199.2 63.5L201.3 68.5L204.9 72.8M206.3 58.5L209.2 61.4L209.9 65.7L207.1 70.0L206.3 72.1M212.1 58.5L214.2 62.1L217.8 64.3L220.6 67.8L224.2 70.7L227.8 72.1M246.3 58.5L243.5 62.8L240.6 66.4L237.8 70.7L237.1 75.0L237.8 77.8L242.1 77.4L247.8 77.1L253.5 76.4L259.2 75.7M237.8 77.8L232.1 80.7L228.5 81.4L226.3 80.0L222.1 80.7L216.3 82.8L210.6 84.3L204.9 85.7L200.6 87.1L197.1 89.3L197.8 92.8L195.6 97.1L194.9 101.4L196.3 105.7L195.6 110.0L196.3 115.7L197.1 118.5M232.1 80.7L226.3 83.5L222.1 86.4L218.5 90.0L215.6 92.8M216.3 97.1L212.8 99.3L211.3 102.8L209.2 106.4L204.9 104.3L200.6 104.5L196.3 105.0M227.8 95.7L230.6 99.3L236.3 97.8L242.1 96.4L247.8 95.0L249.9 93.5L254.9 92.1L260.6 90.7L266.3 88.5L267.8 84.3L267.1 81.4L269.2 80.0M246.3 70.0L250.6 72.8L256.3 72.1L262.1 70.7L266.3 68.5L269.2 67.8M249.9 94.3L254.9 95.0L259.2 96.4L258.5 100.0L257.1 99.3M253.5 105.7L254.9 109.3L259.2 112.8L264.9 114.3L269.2 115.7M227.1 105.0L232.1 105.7L237.8 105.0L241.3 107.8L243.5 112.1L240.6 115.7L239.2 118.5M179.2 84.3L182.8 85.0M222.1 118.5L224.9 117.1M196.3 118.5L194.9 122.8L193.5 127.1L194.9 131.4L192.1 135.7L189.2 139.7M192.1 135.7L194.2 138.5M194.9 131.4L199.2 134.3L203.5 136.4L207.8 137.1L211.3 135.0L213.5 132.1L212.8 128.5L214.9 125.7L219.2 124.3L222.1 122.1L223.5 118.5M179.2 118.5L181.3 122.1L182.8 123.5M227.8 124.3L232.1 125.0L236.3 124.3L239.2 121.4L238.5 118.5M304.9 0.5L304.2 4.3L300.6 7.1L299.9 10.0L303.5 12.1L309.2 12.8L314.9 12.8L318.5 16.4L323.5 20.7L327.8 24.0L333.5 25.7L339.2 27.8L336.3 32.1L339.2 34.3L343.5 37.8L347.8 39.3L351.8 39.3M269.2 20.0L273.5 21.4L278.5 24.5L274.9 27.1L275.6 29.3L279.2 29.7L280.6 32.8L284.9 34.5L289.2 34.3M269.2 40.7L273.5 43.5L276.3 45.7L277.8 41.4L282.1 40.7L287.1 41.4L290.6 38.5L294.9 39.3L298.5 41.4L298.5 44.3M342.1 0.5L344.9 2.8L343.5 6.4L346.3 10.0L351.8 9.7M344.9 2.8L351.8 1.4M339.2 34.3L341.3 40.0L339.9 44.3L337.8 48.5L339.9 52.8L340.6 58.5M301.3 57.8L305.6 55.7L310.6 56.4L314.9 57.8M327.8 56.4L332.1 57.1M269.2 67.8L274.9 65.7L282.1 62.8L289.2 61.1L294.9 60.0L299.9 59.3M316.3 58.5L320.6 61.4L326.3 62.8L332.1 64.3L337.8 66.4L343.5 67.8L349.2 68.8L351.8 68.3M326.3 62.8L323.5 66.4L317.8 67.8L312.1 68.5L308.5 70.0L306.6 72.8L307.8 76.4L303.5 78.5L297.8 80.7L290.6 82.1L284.9 83.5L282.1 86.4L277.8 90.7L273.5 94.3L269.2 97.1M332.1 58.5L334.9 61.1L339.2 61.7L340.6 58.5M327.5 84.3L332.1 85.4L337.8 85.0L343.5 84.3L347.8 82.1L351.8 80.7M308.5 87.8L313.5 88.5L319.2 90.7L326.3 89.7L332.1 92.1L337.8 93.1L343.5 92.5L349.2 92.8L351.8 92.8M282.1 89.3L284.9 91.4L290.6 91.7L294.2 94.3L292.8 98.5L291.3 102.8L289.2 107.1L284.9 110.0L284.9 113.5L289.2 115.0L294.9 114.0L300.6 115.0L306.3 115.4L310.6 117.1L312.1 118.5M269.2 115.7L274.9 116.4L280.6 117.8L284.9 115.0M304.9 135.7L307.1 139.3L309.9 142.1L311.8 145.0L310.6 149.3L307.8 151.7L309.9 155.0L312.8 157.1L314.6 160.0L312.8 163.5L309.2 165.4M297.8 118.5L299.2 119.0"/>
<path class="k" d="M0.6 13.5L4.2 11.4L8.5 9.7L13.5 8.8L17.8 8.3L22.8 8.0L27.1 7.4L28.9 4.3L29.8 0.5M62.1 0.5L62.1 3.5L59.2 7.1L53.5 9.3L47.8 11.1L42.8 12.8L42.1 14.0L46.3 14.5L48.5 16.4L53.5 16.0L57.8 15.7L62.1 16.8L66.3 17.8L70.6 20.0L74.9 20.0L79.2 18.5L83.5 16.4L87.1 14.0L89.2 12.1M79.2 18.5L77.8 22.5L72.1 23.1L66.3 22.8L59.9 23.1L57.8 25.7L54.9 27.1L52.8 30.7L48.5 33.5L44.9 36.0L40.6 38.3L37.1 39.3L36.6 40.7L39.9 41.1L42.8 40.3L44.9 41.4L47.1 39.3L52.1 36.4L59.2 36.0L63.5 36.4L66.3 37.8L69.2 36.0L70.6 32.1L74.9 30.7L80.6 30.0L84.9 32.1L89.2 32.1M83.5 49.3L85.8 49.5M89.2 60.7L84.9 62.1L82.1 63.5L79.2 60.7L74.9 59.3L70.6 59.7L67.8 60.7L63.5 60.3L59.2 61.1L54.9 61.7L51.3 63.1L50.6 65.0L53.5 66.4L56.3 65.7L59.2 66.8L54.9 68.5L52.1 70.7L56.3 71.4L57.8 74.3L62.1 73.5L66.3 74.5L70.6 75.7L74.9 76.4L77.8 77.8L82.1 77.1L86.3 79.3L85.6 81.4L89.2 82.8M54.2 66.4L58.5 66.8L57.8 67.8L54.2 67.4L54.2 66.4M74.2 80.8L77.1 81.8M1.2 136.4L4.9 135.7L9.2 136.0L13.5 138.5L17.8 138.8L23.5 138.3L29.2 138.3L34.2 137.1L37.8 138.8L43.5 139.7L49.2 140.7L56.3 141.1L62.1 140.7L67.8 139.7L72.1 140.7L76.3 141.7L80.6 140.3L84.9 141.4L89.2 142.8M149.9 0.5L150.3 4.3L148.5 8.5L144.9 11.4L140.6 12.1L137.8 14.3L134.9 15.7L136.3 17.1L132.1 18.8L129.2 19.3L132.1 18.8L136.3 20.7L144.2 20.3L144.6 22.1L142.8 24.5L137.8 26.4L132.1 28.5L126.3 29.7L120.6 29.3L114.9 29.0L110.6 28.8L106.3 29.3L103.5 28.5L99.2 30.3L93.5 31.1L89.2 32.1M101.3 29.3L103.5 27.8L107.1 29.3L109.2 28.8L106.3 31.1L103.5 32.5L101.3 31.1L101.3 29.3M179.2 18.5L174.9 19.7L169.2 21.7L162.1 24.3L153.5 26.4L148.5 27.8L147.1 30.7L146.6 35.7L147.1 37.8L144.2 40.0L137.8 42.1L130.6 44.3L126.3 45.7L124.9 47.8L127.1 50.0L130.6 48.5M124.9 47.8L123.5 51.1L117.8 52.1L110.6 51.4L104.9 50.0L103.5 46.4L99.2 46.0L94.2 46.0L96.3 48.5L98.5 52.8L99.5 58.5M174.9 19.7L177.1 17.1L179.2 16.4M89.2 62.5L92.8 61.1L96.3 61.7L99.5 58.8L100.6 61.1L102.3 61.7M89.2 82.1L93.5 81.7L95.6 83.5L92.1 85.0L89.9 84.3L90.6 87.1L93.5 90.0L97.1 93.5L99.9 96.4L103.5 97.8L106.3 100.0L104.2 102.1L107.1 105.0L108.5 107.8L110.6 110.0L112.8 113.5L114.9 116.4L116.3 117.8L117.8 118.5M102.8 97.1L105.6 98.5L106.3 101.4M105.6 105.7L106.1 110.0L105.2 114.3L104.6 118.5M104.6 118.5L104.2 122.8L103.5 128.5L102.1 134.3L100.6 138.5L98.5 140.7L93.5 141.7L89.2 142.8M104.9 120.3L106.3 121.7M179.2 140.7L174.9 142.8L170.6 145.0L169.2 148.5L169.9 152.8L172.1 156.4L171.3 160.0L172.1 163.5L167.8 166.4L160.6 169.3L153.5 172.1L146.3 174.3L139.2 176.4L136.3 178.5M153.5 173.5L146.3 174.7L139.2 177.1L134.9 180.0L135.6 182.1L132.8 183.5L130.6 185.0L126.3 190.0L122.1 195.0L118.5 200.0L119.2 204.3L121.3 207.8L124.9 210.0L126.6 211.4L123.5 213.5L118.5 215.3L114.9 217.8L112.8 222.1L110.6 226.4L110.6 227.8M158.5 199.0L162.1 196.1L166.3 194.7L170.6 193.5L172.1 195.7L174.9 196.4L175.6 199.3L172.1 202.1L169.2 203.5L166.3 201.4L162.1 200.7L158.5 199.0M142.1 208.5L144.2 206.4L147.1 206.1L147.8 207.8L144.9 210.0L142.1 209.3L142.1 208.5M193.5 0.5L192.8 4.3L190.6 7.8L187.1 10.7L184.2 12.8L182.1 14.3L179.2 15.4M179.2 16.4L183.5 15.7L186.3 17.1L183.5 18.5L179.2 18.3M179.2 20.0L184.9 19.3L187.5 20.0L184.9 21.4L179.2 21.4M200.6 1.1L207.8 0.5L211.8 2.8L209.9 5.0L204.9 6.8L200.6 5.7L198.9 4.0L200.6 1.1M179.2 140.7L183.5 139.3L187.8 140.0L192.1 141.4L196.3 141.1L200.6 140.7L204.9 143.5L209.2 145.0L213.5 146.0L217.8 146.4L221.3 145.7L223.5 142.8L226.3 140.7L230.6 137.8L236.3 135.7L242.1 134.5L246.3 132.8L249.2 129.3L253.5 126.4L259.2 125.7L264.9 127.1L269.2 128.5M264.9 147.1L266.3 148.5L266.1 151.4L267.1 154.3L267.5 160.0L266.3 165.7L264.2 170.0L262.1 172.1L259.2 170.7L257.1 167.8L255.6 164.3L253.5 161.4L252.8 157.1L254.9 154.3L259.2 152.1L263.5 151.1L264.6 148.5L264.9 147.1M262.1 172.1L264.9 173.5L268.5 175.0L269.2 175.7M246.3 178.5L247.8 176.4L249.9 175.4M180.6 192.1L183.5 191.4L187.1 191.8L188.9 193.5L187.8 195.0L184.2 194.3L181.3 193.5L180.6 192.1M264.9 173.5L260.6 175.7L256.3 177.8L252.1 179.3L249.2 176.4L247.1 178.5L246.3 182.1L247.8 185.0L249.9 187.8L250.6 192.1L249.2 195.0L251.3 197.1L250.6 200.7L249.2 204.3L250.6 207.1L253.5 208.5L257.8 207.8L259.9 205.7L260.6 204.3M287.1 103.5L284.9 106.4L282.8 108.5L284.2 109.7L286.3 107.1L287.8 104.3L287.1 103.5M307.8 112.1L310.6 110.0L314.9 108.5L319.2 107.1L322.8 105.0L326.3 106.4L329.2 105.7L331.3 107.8L329.2 110.0L328.5 113.5L330.6 116.4L332.1 118.5M307.8 112.1L309.2 115.0L312.1 117.1M339.2 112.8L342.1 111.7L346.3 113.5L347.8 117.1L344.9 118.5M340.6 114.3L343.5 113.5L344.9 115.7L342.8 117.1L340.6 116.4L340.6 114.3M269.2 130.0L273.5 131.1L277.8 133.5L279.2 138.5L282.1 142.1L282.8 147.1L285.6 148.5L288.5 151.4L292.1 155.0L296.3 156.4L300.6 159.3L304.9 162.8L308.5 165.7L312.1 168.5L316.3 170.7L320.6 173.1L326.3 172.8L330.6 174.3L333.5 177.1L334.9 178.5M309.9 118.5L308.5 121.4L309.2 125.7L312.1 129.3L316.3 132.1L322.1 135.0L327.8 137.8L331.3 142.8L333.5 148.5L336.3 152.8L340.6 156.4L346.3 160.7L351.8 162.8M339.2 121.4L342.1 123.5M344.9 120.0L349.2 124.3L351.8 127.1M346.3 127.1L350.6 131.4M340.6 122.8L343.5 125.7M302.9 152.5L304.3 152.5L304.3 153.7L302.9 153.7L302.9 152.5M332.1 173.5L333.5 177.1L336.3 180.0L340.6 180.7L344.9 182.8L347.8 185.7L349.2 188.5L351.8 190.0M318.2 177.7L320.2 178.7M338.1 183.5L340.1 184.0M269.2 179.3L271.3 181.4L272.1 185.0L269.9 187.8L269.2 189.3M269.2 190.7L269.9 197.1M311.6 227.8L311.6 224.0L315.4 222.6L320.2 222.1L325.9 222.6L330.6 223.1L335.4 222.1L339.2 221.6L344.0 221.2L347.8 220.7L351.1 221.2M347.3 213.8L350.2 216.7"/>
<path class="K" d="M26.8 41.8L27.9 42.4M45.6 64.3L46.5 64.8M87.1 91.1L88.9 91.1M88.3 86.1L89.2 86.7M33.5 195.3L37.8 195.7L42.1 195.0L44.9 195.4M81.8 183.5L82.8 185.7L84.9 186.1M44.9 203.5L47.8 201.4L49.9 203.3M167.2 205.0L167.8 205.7M144.2 212.1L146.3 212.7M216.3 97.1L219.2 95.0L223.5 94.3L227.8 95.7M258.5 75.7L261.3 75.0L264.9 76.8L268.5 78.5L269.2 80.0M257.1 99.3L254.9 101.4L252.8 103.5L253.5 105.7M262.1 173.5L264.9 175.0L268.5 177.8L269.2 179.3M310.9 4.8L311.8 5.3M318.5 5.3L319.3 5.5M321.9 3.8L322.8 4.3M329.5 4.3L330.1 4.8M337.6 10.0L338.5 10.5M340.3 16.4L340.9 17.1M309.2 109.7L312.1 108.8M331.3 119.0L332.8 119.7M276.3 150.3L279.9 150.3M271.3 146.1L272.1 146.7M272.5 140.4L273.1 141.0M275.3 152.8L275.9 153.4M278.2 156.5L278.8 157.1M287.3 156.5L288.2 157.1M290.6 156.0L292.1 156.8M326.1 179.7L326.8 180.3M339.7 214.3L340.6 214.7M343.5 213.6L344.2 214.0M321.8 211.9L322.3 212.3M89.4 53.0L92.6 53.3M83.5 49.0L85.8 49.5M89.5 45.8L90.2 45.9"/>
</svg>
<text class="n" x="321.69 325.71 329.72 335.74 345.10 347.77 353.79 357.80 360.48 367.17 369.84 373.85 376.53 379.20 385.22 389.90 392.58 399.26 403.28 409.29 414.64 417.32 423.34 429.35 435.37 438.05 444.73 450.08 452.76 458.78 465.46 473.49 482.85" y="522.90">from grib files provided by ECMWF</text>
<text class="n" x="378.53 387.89 393.91 399.93 405.95 411.97 414.64 419.32 426.01 435.37 438.05 442.06 444.73 450.08 456.10 462.12 468.14 471.48 477.50 483.52" y="542.10">©2026 sb@irizone.net</text>
<rect class="f" x="141.00" y="317.65" width="352.10" height="228.35"/>
</g>
<g id="panel3">
<text class="t" x="7.07 11.09 18.44 26.47 30.48 35.16 39.17 46.53 52.54 60.57 68.59 76.62 84.64 87.99 92.00 95.34 100.69 104.70 112.73 119.41 123.43 128.78 136.13 141.48 149.51 153.52 157.53 165.56 171.57 179.60 186.28 190.30 198.32 201.66 207.01 215.04 220.39 224.40 232.43 240.45 244.46 252.49 260.51 268.53 272.55 283.25 287.26 295.28 303.31 311.33 315.34 328.05 340.75 344.77 348.78 352.79 360.82 364.16 369.51 373.52 377.53 385.56 393.58 401.61 409.63 417.66 425.68 433.70 441.73 445.74 453.76 461.79 468.48 472.49 477.17 481.18 489.87 497.90 501.91 505.92 513.95 517.96 521.97 530.00 538.02 546.05 554.07 562.09 570.12 578.14 586.17 590.18 598.20 606.23 610.24 618.26" y="560.30">IFS - Probabilities total precipitation/24h &gt; 100 mm, Init: 20260206 12z - Valid: 20260214:00 TU</text>
<rect x="158.50" y="573.20" width="35.31" height="7.30" fill="#ffff00"/><rect x="193.76" y="573.20" width="35.31" height="7.30" fill="#ffdc00"/><rect x="229.01" y="573.20" width="35.31" height="7.30" fill="#ffb400"/><rect x="264.27" y="573.20" width="35.31" height="7.30" fill="#ff9300"/><rect x="299.52" y="573.20" width="35.31" height="7.30" fill="#ff6600"/><rect x="334.78" y="573.20" width="35.31" height="7.30" fill="#ff1900"/><rect x="370.03" y="573.20" width="35.31" height="7.30" fill="#d40000"/><rect x="405.29" y="573.20" width="35.31" height="7.30" fill="#960000"/><rect x="440.54" y="573.20" width="35.31" height="7.30" fill="#640000"/>
<path d="M193.76 573.20V580.50M229.01 573.20V580.50M264.27 573.20V580.50M299.52 573.20V580.50M334.78 573.20V580.50M370.03 573.20V580.50M405.29 573.20V580.50M440.54 573.20V580.50" stroke="#000" stroke-width=".6" fill="none"/>
<rect x="158.50" y="573.20" width="317.30" height="7.30" fill="none" stroke="#000" stroke-width=".8"/>
<text class="c" x="152.48 158.50" y="568.65">10</text><text class="c" x="187.74 193.76" y="568.65">25</text><text class="c" x="222.99 229.01" y="568.65">40</text><text class="c" x="258.25 264.27" y="568.65">50</text><text class="c" x="293.50 299.52" y="568.65">60</text><text class="c" x="328.76 334.78" y="568.65">70</text><text class="c" x="364.02 370.03" y="568.65">80</text><text class="c" x="399.27 405.29" y="568.65">90</text><text class="c" x="434.53 440.54" y="568.65">95</text><text class="c" x="466.77 472.79 478.81" y="568.65">100</text>
<svg x="140.80" y="586.45" width="352.10" height="228.00" viewBox="0 0 352.10 228.00" overflow="hidden">
<rect width="352.10" height="228.00" fill="#fff"/>
<path class="g" d="M68.5 60.7L68.9 65.0L69.2 68.5L73.5 68.8L79.2 68.5L84.9 69.7L89.2 70.7M69.2 68.5L67.8 71.4L70.6 72.8L70.6 75.7M1.2 164.3L6.3 164.0L10.6 164.5L14.9 162.8L20.6 162.8L24.2 164.3L24.9 167.1L27.8 168.3L30.6 169.3M19.2 177.1L19.9 182.1L19.9 187.1L17.1 190.0L18.5 194.3L17.8 196.4M9.2 197.8L12.1 202.1L14.9 205.7L17.8 209.3M13.5 216.4L17.8 220.0L14.9 223.5L10.6 227.1M148.5 27.8L152.1 31.4L156.3 32.1L160.6 32.8L166.3 33.5L169.2 35.7L171.3 41.1M147.1 37.8L152.1 37.1L157.8 38.5L163.5 40.0L171.3 41.1L174.9 40.7L179.2 40.0M162.1 24.3L163.5 27.1L166.3 30.0L169.2 35.7M146.3 41.4L149.2 45.7L149.9 48.5L149.2 52.8L149.9 55.7M149.2 45.7L156.3 46.4L163.5 45.7L170.6 45.0L171.3 41.1M170.6 45.0L172.1 50.0L171.3 55.7M103.5 46.4L104.9 50.0L107.8 53.5L108.5 58.5M123.5 51.1L127.8 52.8L129.2 58.5M102.3 61.7L106.3 64.3L112.1 63.5L119.2 65.0L126.3 64.3L132.1 66.4L136.3 70.0L142.1 72.1L149.2 73.5M106.3 64.3L107.1 70.0L104.9 74.3L107.8 78.5L109.2 80.7M119.2 65.0L119.9 71.4L117.8 74.3L122.1 77.1L123.5 82.8M132.1 66.4L133.5 61.4L137.8 58.5M136.3 70.0L134.9 75.7L136.3 80.3M89.2 74.3L94.9 73.5L100.6 72.1L104.9 74.3M142.1 72.1L146.3 67.1L152.1 64.3L157.8 62.8L160.6 62.1M152.1 64.3L153.5 58.5M157.8 73.5L156.3 78.5L152.1 81.4L154.9 87.1L153.5 92.8L157.8 95.7L163.5 92.8L169.2 89.3M140.6 79.3L139.2 84.3L142.1 87.1L137.8 89.3L133.5 90.0M97.8 85.7L103.5 87.1L110.6 85.7L117.8 86.4L122.8 85.0L123.5 82.8M122.8 85.0L123.5 91.4L124.9 97.1L129.2 100.0L132.8 100.7M110.6 85.7L113.5 91.4L112.1 95.7L117.8 100.0L124.9 97.1M117.8 100.0L117.1 105.7L119.9 108.5L124.9 107.1L130.6 105.7L134.9 103.5M99.9 96.4L106.3 96.0L112.1 95.7M119.9 108.5L117.8 112.8L116.3 117.8M130.6 105.7L132.1 110.0L136.3 112.8L142.1 111.4L146.3 113.5L147.8 118.5M136.3 95.7L142.1 95.0L147.8 97.1L153.5 96.0L157.8 95.7M157.8 95.7L160.6 101.4L156.3 105.7L152.1 106.4M160.6 101.4L166.3 100.0L172.1 101.4L175.6 101.4M164.9 107.8L167.8 111.4L172.1 112.8M142.1 111.4L143.5 104.0M174.9 64.3L172.1 58.5M162.1 75.4L166.3 72.8L173.5 70.0M168.1 84.3L173.5 82.8L179.2 84.3M98.5 140.7L100.6 142.8L103.5 145.7L109.2 147.1L114.9 149.3L122.1 150.7L129.2 151.4L136.3 152.1L144.9 153.5L150.6 155.0L157.8 156.0L164.9 155.4L169.9 154.3M103.5 128.5L109.2 125.7L114.9 125.0L117.8 122.1M102.1 138.5L107.8 139.3L114.9 138.5L122.1 139.3L123.5 142.8L122.1 147.1L122.1 150.7M122.1 139.3L129.2 140.0L134.9 141.4L139.2 143.5M117.8 128.5L120.6 132.8L126.3 132.1L132.1 130.7L136.3 130.7M120.6 132.8L119.9 136.4L122.1 139.3M134.9 122.8L139.2 124.3L137.8 128.5L139.2 132.1M139.2 124.3L146.3 125.7L152.1 128.5L153.5 133.5M152.1 128.5L157.8 124.3L163.5 121.4L169.2 118.5M146.3 144.3L152.1 142.1L157.8 140.0L163.5 141.4L169.2 138.5L174.9 135.7L177.8 129.3M147.8 149.3L153.5 148.5L160.6 147.1L166.3 145.7L170.6 145.0M152.1 142.1L150.6 137.1L146.3 135.0M163.5 141.4L162.1 137.1L160.6 132.8M153.5 118.5L154.9 122.8L157.8 124.3M174.9 118.5L173.5 122.8L176.3 126.4M224.9 1.4L229.2 2.1L229.9 5.7L227.8 9.3L224.9 12.1L220.6 12.8L218.5 14.3M187.8 19.3L193.5 20.0L199.2 20.0L203.5 22.1L207.8 21.4L211.3 23.5L213.5 26.4L213.5 29.3L216.3 32.1L218.5 35.0L219.2 37.1L216.3 39.3L213.5 40.0L210.6 42.8L211.3 46.4L214.2 48.5L216.3 50.0M179.2 36.4L183.5 36.4L186.3 38.5L186.3 41.4L193.5 41.4M179.2 44.3L184.9 45.0L187.8 47.1L184.9 50.0L184.9 52.8L192.1 53.5L197.8 52.8L199.2 55.0M196.1 37.8L199.2 44.3L204.9 47.8L209.9 49.3L210.6 52.8L209.9 58.5M217.8 50.0L222.1 50.7L226.3 52.8L229.2 55.7L234.9 56.4L239.2 55.7L244.9 57.1L246.3 58.5M179.2 72.8L183.5 71.4L187.8 74.3L184.9 80.0L182.1 82.1L179.2 81.4M187.8 74.3L192.1 74.3M197.8 74.3L202.1 77.1L206.3 76.4L210.6 75.0L216.3 74.3L220.6 72.8L226.3 74.3L229.2 78.5L228.5 81.4M204.9 72.8L206.3 76.4M226.3 74.3L227.8 72.1M179.2 90.7L183.5 89.3L189.2 90.0L197.1 89.3M179.2 98.5L184.9 97.8L190.6 99.3L194.9 101.4M179.2 108.5L183.5 107.1L187.8 109.3L192.1 112.8L195.6 110.0M200.6 87.1L203.5 91.4L207.8 92.8L212.1 94.3L215.6 92.8M197.8 92.8L203.5 95.7L207.8 98.5L211.3 102.8M213.5 107.1L217.8 104.3L222.1 102.8L226.3 100.0L227.8 95.7M212.1 110.0L216.3 112.8L222.1 114.3L227.8 113.5L230.6 110.0L227.1 105.0M216.3 112.8L214.9 118.5M230.6 99.3L236.3 101.4L242.1 100.0L246.3 97.1L249.9 94.3M259.2 96.4L263.5 94.3L267.8 95.7L269.2 95.0M233.5 58.5L234.2 62.8L232.1 67.1L234.9 71.4L237.1 75.0M183.5 58.5L187.8 62.8L193.5 64.3L199.2 63.5M217.8 64.3L222.1 61.4L227.8 60.7L233.5 58.5M254.9 156.4L259.2 157.8L263.5 161.4L266.3 165.7M179.2 132.8L183.5 134.3L186.3 136.4L189.2 140.0M179.2 125.7L183.5 127.1L187.8 125.7L193.5 127.1M196.3 127.1L202.1 128.5L207.8 129.3L212.8 128.5M207.8 129.3L206.3 132.8L207.8 137.1M209.2 145.0L209.9 140.0L211.3 135.0M213.5 135.7L219.2 135.0L224.9 132.8L228.5 133.5L226.3 140.7M224.9 132.8L226.3 128.5L222.1 122.1M226.3 128.5L233.5 130.0L239.2 129.3L236.3 135.7M204.9 118.5L207.8 121.4L214.9 120.0L222.1 122.1M227.8 118.5L229.2 122.8L227.8 124.3M346.3 10.0L343.5 13.5L346.3 17.1L349.2 20.0L349.9 25.7L346.3 28.5L342.1 26.4L339.2 27.1L332.1 30.7L323.5 33.5L314.9 35.0L309.2 37.1L306.3 37.1L307.8 40.0L312.1 43.5L312.1 47.8L316.3 51.4L322.1 55.0L327.8 57.1L332.1 58.5M269.2 78.5L273.5 80.0L276.3 82.1L280.6 78.5L286.3 79.3L290.6 82.1L297.8 80.0L304.9 77.1L307.8 76.4M307.8 76.4L313.5 75.7L317.8 78.5L320.6 77.1L319.2 72.8L316.3 69.3M269.2 85.7L273.5 88.5L277.8 90.7L282.1 89.3M273.5 94.3L276.3 97.8M290.6 88.5L297.8 86.4L303.5 85.7L307.8 85.0L308.5 87.8L312.1 91.4L317.8 92.8L323.5 93.5L329.2 95.0L336.3 94.3L343.5 95.7L351.8 93.5M329.2 95.0L326.3 97.1L327.8 101.4L327.1 105.0M331.3 107.8L336.3 109.3L342.1 107.8L347.8 109.3L351.8 108.5"/>
<path class="b" d="M67.1 2.8L69.2 4.3L73.5 2.8L76.3 0.7M82.1 0.5L86.3 2.8L88.5 7.1L89.2 12.8L87.1 14.0M1.2 157.1L4.9 156.4L7.1 152.1L9.9 148.5L8.5 145.0L12.1 143.1L13.5 144.3M46.3 147.8L44.9 152.1L40.6 155.0L38.5 159.3L37.1 163.5L33.5 167.1L30.6 169.3L26.3 172.1L22.1 175.0L19.2 177.1L14.9 175.0L10.6 174.3L4.9 175.0L1.2 175.7M30.6 169.3L36.3 170.0L43.5 170.3L50.6 168.5L57.8 167.8L64.9 167.1L72.1 167.8L77.8 169.3L83.5 169.7L87.5 167.8L85.6 165.0L82.1 164.0L78.5 162.8M57.8 147.1L61.3 147.8L62.1 149.7L67.8 148.8L73.5 150.0L77.8 151.1L82.1 153.5L86.3 155.0L89.2 155.0M1.2 175.7L6.3 174.3L12.1 175.0L16.3 175.7L19.2 177.1L22.1 174.3M1.2 200.0L4.9 199.0L9.2 197.1L14.9 196.4L20.6 195.7L26.3 196.1L32.1 195.0L36.3 195.7L42.1 195.0L46.3 195.3L50.6 192.8L54.9 193.5L57.8 195.0L63.5 193.5L69.2 192.1L74.9 190.7L79.2 187.1L82.1 182.8L86.3 180.7L89.2 180.0M7.8 227.8L7.1 223.5L9.2 219.3L12.1 215.0L13.5 211.4L17.8 209.3L23.5 208.5L29.2 208.1L36.3 207.1L42.1 205.7L44.9 203.5L47.8 201.4L50.6 204.3L54.9 207.1L60.6 208.5L64.9 206.4L70.6 204.3L76.3 202.8L82.1 202.1L84.6 199.3L84.2 195.0L86.6 191.8M41.3 227.8L46.3 225.7L52.1 223.5L57.8 222.1L63.5 222.1L69.2 223.5L73.5 223.3L77.8 220.7L80.6 220.0L79.9 222.8M89.2 8.5L90.6 11.4L93.5 15.0L97.8 15.7L102.8 14.3L106.3 17.8L110.6 17.4L114.9 20.0L119.2 19.3L124.9 18.8L129.2 19.3M130.6 48.5L134.9 48.8L138.5 51.4L142.1 53.5L146.3 55.0L152.1 56.4L157.8 57.8L163.5 57.4L169.2 56.4L174.9 55.7L179.2 55.0M179.2 27.1L176.3 29.3L174.2 31.4L176.3 33.5L174.9 36.4L172.1 38.5L171.3 41.1M95.6 83.5L99.2 83.1L103.5 81.4L109.2 80.7L114.9 80.0L119.2 80.7L123.5 82.8L127.1 83.1L130.6 81.4L136.3 80.3L140.6 79.3L144.9 76.4L149.2 73.5L152.8 72.5L157.8 73.5L162.1 75.4L166.3 79.3L168.1 84.3L169.2 89.3L172.1 92.8L174.2 97.1L175.6 101.4L173.5 104.3L172.1 107.8L173.5 112.1L176.3 115.7L179.2 117.1M127.1 83.1L131.3 85.0L132.1 90.0L133.5 95.7L132.8 100.7L134.9 103.5L139.2 104.3L143.5 104.0L147.8 105.0L152.1 106.4M157.8 58.5L160.6 62.1L164.9 64.5L169.2 65.4L174.9 64.3L179.2 62.8M169.2 65.4L173.5 70.0L176.3 75.7L177.8 80.0L179.2 82.1M147.8 118.5L152.1 115.7L156.3 112.1L160.6 108.5L164.9 107.8M115.6 117.1L119.2 117.8M114.2 118.5L117.8 122.1L123.5 125.0L129.2 128.5L134.9 130.7L139.9 132.1L146.3 135.0L153.5 133.5L160.6 132.8L167.8 130.7L172.1 127.8L176.3 126.4L177.8 129.3M139.9 132.1L143.5 138.5L144.2 140.7L139.2 143.5L134.9 145.0L132.1 146.0L133.5 149.3L136.3 152.1M144.2 140.7L147.1 145.7L147.8 150.0L151.3 154.3L149.2 156.0L144.9 156.8L142.8 161.4L139.2 163.5L134.9 165.0L132.1 167.8L128.5 170.7L126.3 171.4M119.2 118.5L126.3 119.3L136.3 119.3L146.3 118.5M89.2 155.4L93.5 157.1L97.8 160.0L103.5 164.3L110.6 168.5L116.3 172.1L122.1 172.8L126.3 171.4L128.5 173.5L132.1 175.0L132.8 177.1L131.3 178.5M128.5 173.5L131.3 175.0L132.1 177.1L130.6 179.3L132.1 181.4L134.9 181.8M89.2 180.0L93.5 179.5L97.1 181.0L98.5 183.8M184.2 12.8L189.2 12.5L194.9 12.1L200.6 11.7L207.8 12.1L213.5 12.5L218.5 14.3L222.1 17.1L224.2 20.7L225.6 24.3L228.5 27.8L231.3 31.4L234.9 34.3L237.8 36.0L239.9 39.3L243.5 41.4L249.2 41.1L253.5 40.0L257.8 39.3L260.6 41.4L262.8 45.0L266.3 44.3L269.2 42.1M211.8 2.8L215.6 5.0L217.1 8.5L214.9 11.4L213.5 12.5M184.9 13.5L190.6 14.5L197.8 14.3L204.9 13.5L210.6 14.0L214.9 16.4L216.6 20.0L214.2 22.8L211.3 25.0L209.5 27.8L209.2 31.1L204.9 32.5L200.6 33.5L197.1 34.3L196.1 37.8L193.5 41.4L194.9 45.0L199.2 47.1L202.1 50.7L204.2 54.3L206.3 58.5M179.2 26.4L183.5 25.7L187.8 24.3L189.5 22.1L187.5 20.0M237.8 36.0L233.5 38.5L229.2 41.4L224.9 44.0L220.6 46.4L217.8 50.0L216.3 54.3L215.6 58.5M249.2 41.1L250.6 45.0L251.3 48.5L249.9 52.8L247.8 56.4L246.3 58.5M232.8 0.5L234.2 4.3L237.8 7.8L242.1 10.7L246.3 12.1L250.6 13.5L255.6 12.5M263.5 0.5L260.6 4.3L257.1 7.8L261.3 9.3L265.6 12.1L264.9 15.7L269.2 19.7M179.2 55.7L183.5 55.0L187.8 56.4L190.6 58.5M179.2 62.8L183.5 65.7L187.8 69.3L192.1 74.3L194.2 78.5M190.6 58.5L194.9 61.4L199.2 63.5L201.3 68.5L204.9 72.8M206.3 58.5L209.2 61.4L209.9 65.7L207.1 70.0L206.3 72.1M212.1 58.5L214.2 62.1L217.8 64.3L220.6 67.8L224.2 70.7L227.8 72.1M246.3 58.5L243.5 62.8L240.6 66.4L237.8 70.7L237.1 75.0L237.8 77.8L242.1 77.4L247.8 77.1L253.5 76.4L259.2 75.7M237.8 77.8L232.1 80.7L228.5 81.4L226.3 80.0L222.1 80.7L216.3 82.8L210.6 84.3L204.9 85.7L200.6 87.1L197.1 89.3L197.8 92.8L195.6 97.1L194.9 101.4L196.3 105.7L195.6 110.0L196.3 115.7L197.1 118.5M232.1 80.7L226.3 83.5L222.1 86.4L218.5 90.0L215.6 92.8M216.3 97.1L212.8 99.3L211.3 102.8L209.2 106.4L204.9 104.3L200.6 104.5L196.3 105.0M227.8 95.7L230.6 99.3L236.3 97.8L242.1 96.4L247.8 95.0L249.9 93.5L254.9 92.1L260.6 90.7L266.3 88.5L267.8 84.3L267.1 81.4L269.2 80.0M246.3 70.0L250.6 72.8L256.3 72.1L262.1 70.7L266.3 68.5L269.2 67.8M249.9 94.3L254.9 95.0L259.2 96.4L258.5 100.0L257.1 99.3M253.5 105.7L254.9 109.3L259.2 112.8L264.9 114.3L269.2 115.7M227.1 105.0L232.1 105.7L237.8 105.0L241.3 107.8L243.5 112.1L240.6 115.7L239.2 118.5M179.2 84.3L182.8 85.0M222.1 118.5L224.9 117.1M196.3 118.5L194.9 122.8L193.5 127.1L194.9 131.4L192.1 135.7L189.2 139.7M192.1 135.7L194.2 138.5M194.9 131.4L199.2 134.3L203.5 136.4L207.8 137.1L211.3 135.0L213.5 132.1L212.8 128.5L214.9 125.7L219.2 124.3L222.1 122.1L223.5 118.5M179.2 118.5L181.3 122.1L182.8 123.5M227.8 124.3L232.1 125.0L236.3 124.3L239.2 121.4L238.5 118.5M304.9 0.5L304.2 4.3L300.6 7.1L299.9 10.0L303.5 12.1L309.2 12.8L314.9 12.8L318.5 16.4L323.5 20.7L327.8 24.0L333.5 25.7L339.2 27.8L336.3 32.1L339.2 34.3L343.5 37.8L347.8 39.3L351.8 39.3M269.2 20.0L273.5 21.4L278.5 24.5L274.9 27.1L275.6 29.3L279.2 29.7L280.6 32.8L284.9 34.5L289.2 34.3M269.2 40.7L273.5 43.5L276.3 45.7L277.8 41.4L282.1 40.7L287.1 41.4L290.6 38.5L294.9 39.3L298.5 41.4L298.5 44.3M342.1 0.5L344.9 2.8L343.5 6.4L346.3 10.0L351.8 9.7M344.9 2.8L351.8 1.4M339.2 34.3L341.3 40.0L339.9 44.3L337.8 48.5L339.9 52.8L340.6 58.5M301.3 57.8L305.6 55.7L310.6 56.4L314.9 57.8M327.8 56.4L332.1 57.1M269.2 67.8L274.9 65.7L282.1 62.8L289.2 61.1L294.9 60.0L299.9 59.3M316.3 58.5L320.6 61.4L326.3 62.8L332.1 64.3L337.8 66.4L343.5 67.8L349.2 68.8L351.8 68.3M326.3 62.8L323.5 66.4L317.8 67.8L312.1 68.5L308.5 70.0L306.6 72.8L307.8 76.4L303.5 78.5L297.8 80.7L290.6 82.1L284.9 83.5L282.1 86.4L277.8 90.7L273.5 94.3L269.2 97.1M332.1 58.5L334.9 61.1L339.2 61.7L340.6 58.5M327.5 84.3L332.1 85.4L337.8 85.0L343.5 84.3L347.8 82.1L351.8 80.7M308.5 87.8L313.5 88.5L319.2 90.7L326.3 89.7L332.1 92.1L337.8 93.1L343.5 92.5L349.2 92.8L351.8 92.8M282.1 89.3L284.9 91.4L290.6 91.7L294.2 94.3L292.8 98.5L291.3 102.8L289.2 107.1L284.9 110.0L284.9 113.5L289.2 115.0L294.9 114.0L300.6 115.0L306.3 115.4L310.6 117.1L312.1 118.5M269.2 115.7L274.9 116.4L280.6 117.8L284.9 115.0M304.9 135.7L307.1 139.3L309.9 142.1L311.8 145.0L310.6 149.3L307.8 151.7L309.9 155.0L312.8 157.1L314.6 160.0L312.8 163.5L309.2 165.4M297.8 118.5L299.2 119.0"/>
<path class="k" d="M0.6 13.5L4.2 11.4L8.5 9.7L13.5 8.8L17.8 8.3L22.8 8.0L27.1 7.4L28.9 4.3L29.8 0.5M62.1 0.5L62.1 3.5L59.2 7.1L53.5 9.3L47.8 11.1L42.8 12.8L42.1 14.0L46.3 14.5L48.5 16.4L53.5 16.0L57.8 15.7L62.1 16.8L66.3 17.8L70.6 20.0L74.9 20.0L79.2 18.5L83.5 16.4L87.1 14.0L89.2 12.1M79.2 18.5L77.8 22.5L72.1 23.1L66.3 22.8L59.9 23.1L57.8 25.7L54.9 27.1L52.8 30.7L48.5 33.5L44.9 36.0L40.6 38.3L37.1 39.3L36.6 40.7L39.9 41.1L42.8 40.3L44.9 41.4L47.1 39.3L52.1 36.4L59.2 36.0L63.5 36.4L66.3 37.8L69.2 36.0L70.6 32.1L74.9 30.7L80.6 30.0L84.9 32.1L89.2 32.1M83.5 49.3L85.8 49.5M89.2 60.7L84.9 62.1L82.1 63.5L79.2 60.7L74.9 59.3L70.6 59.7L67.8 60.7L63.5 60.3L59.2 61.1L54.9 61.7L51.3 63.1L50.6 65.0L53.5 66.4L56.3 65.7L59.2 66.8L54.9 68.5L52.1 70.7L56.3 71.4L57.8 74.3L62.1 73.5L66.3 74.5L70.6 75.7L74.9 76.4L77.8 77.8L82.1 77.1L86.3 79.3L85.6 81.4L89.2 82.8M54.2 66.4L58.5 66.8L57.8 67.8L54.2 67.4L54.2 66.4M74.2 80.8L77.1 81.8M1.2 136.4L4.9 135.7L9.2 136.0L13.5 138.5L17.8 138.8L23.5 138.3L29.2 138.3L34.2 137.1L37.8 138.8L43.5 139.7L49.2 140.7L56.3 141.1L62.1 140.7L67.8 139.7L72.1 140.7L76.3 141.7L80.6 140.3L84.9 141.4L89.2 142.8M149.9 0.5L150.3 4.3L148.5 8.5L144.9 11.4L140.6 12.1L137.8 14.3L134.9 15.7L136.3 17.1L132.1 18.8L129.2 19.3L132.1 18.8L136.3 20.7L144.2 20.3L144.6 22.1L142.8 24.5L137.8 26.4L132.1 28.5L126.3 29.7L120.6 29.3L114.9 29.0L110.6 28.8L106.3 29.3L103.5 28.5L99.2 30.3L93.5 31.1L89.2 32.1M101.3 29.3L103.5 27.8L107.1 29.3L109.2 28.8L106.3 31.1L103.5 32.5L101.3 31.1L101.3 29.3M179.2 18.5L174.9 19.7L169.2 21.7L162.1 24.3L153.5 26.4L148.5 27.8L147.1 30.7L146.6 35.7L147.1 37.8L144.2 40.0L137.8 42.1L130.6 44.3L126.3 45.7L124.9 47.8L127.1 50.0L130.6 48.5M124.9 47.8L123.5 51.1L117.8 52.1L110.6 51.4L104.9 50.0L103.5 46.4L99.2 46.0L94.2 46.0L96.3 48.5L98.5 52.8L99.5 58.5M174.9 19.7L177.1 17.1L179.2 16.4M89.2 62.5L92.8 61.1L96.3 61.7L99.5 58.8L100.6 61.1L102.3 61.7M89.2 82.1L93.5 81.7L95.6 83.5L92.1 85.0L89.9 84.3L90.6 87.1L93.5 90.0L97.1 93.5L99.9 96.4L103.5 97.8L106.3 100.0L104.2 102.1L107.1 105.0L108.5 107.8L110.6 110.0L112.8 113.5L114.9 116.4L116.3 117.8L117.8 118.5M102.8 97.1L105.6 98.5L106.3 101.4M105.6 105.7L106.1 110.0L105.2 114.3L104.6 118.5M104.6 118.5L104.2 122.8L103.5 128.5L102.1 134.3L100.6 138.5L98.5 140.7L93.5 141.7L89.2 142.8M104.9 120.3L106.3 121.7M179.2 140.7L174.9 142.8L170.6 145.0L169.2 148.5L169.9 152.8L172.1 156.4L171.3 160.0L172.1 163.5L167.8 166.4L160.6 169.3L153.5 172.1L146.3 174.3L139.2 176.4L136.3 178.5M153.5 173.5L146.3 174.7L139.2 177.1L134.9 180.0L135.6 182.1L132.8 183.5L130.6 185.0L126.3 190.0L122.1 195.0L118.5 200.0L119.2 204.3L121.3 207.8L124.9 210.0L126.6 211.4L123.5 213.5L118.5 215.3L114.9 217.8L112.8 222.1L110.6 226.4L110.6 227.8M158.5 199.0L162.1 196.1L166.3 194.7L170.6 193.5L172.1 195.7L174.9 196.4L175.6 199.3L172.1 202.1L169.2 203.5L166.3 201.4L162.1 200.7L158.5 199.0M142.1 208.5L144.2 206.4L147.1 206.1L147.8 207.8L144.9 210.0L142.1 209.3L142.1 208.5M193.5 0.5L192.8 4.3L190.6 7.8L187.1 10.7L184.2 12.8L182.1 14.3L179.2 15.4M179.2 16.4L183.5 15.7L186.3 17.1L183.5 18.5L179.2 18.3M179.2 20.0L184.9 19.3L187.5 20.0L184.9 21.4L179.2 21.4M200.6 1.1L207.8 0.5L211.8 2.8L209.9 5.0L204.9 6.8L200.6 5.7L198.9 4.0L200.6 1.1M179.2 140.7L183.5 139.3L187.8 140.0L192.1 141.4L196.3 141.1L200.6 140.7L204.9 143.5L209.2 145.0L213.5 146.0L217.8 146.4L221.3 145.7L223.5 142.8L226.3 140.7L230.6 137.8L236.3 135.7L242.1 134.5L246.3 132.8L249.2 129.3L253.5 126.4L259.2 125.7L264.9 127.1L269.2 128.5M264.9 147.1L266.3 148.5L266.1 151.4L267.1 154.3L267.5 160.0L266.3 165.7L264.2 170.0L262.1 172.1L259.2 170.7L257.1 167.8L255.6 164.3L253.5 161.4L252.8 157.1L254.9 154.3L259.2 152.1L263.5 151.1L264.6 148.5L264.9 147.1M262.1 172.1L264.9 173.5L268.5 175.0L269.2 175.7M246.3 178.5L247.8 176.4L249.9 175.4M180.6 192.1L183.5 191.4L187.1 191.8L188.9 193.5L187.8 195.0L184.2 194.3L181.3 193.5L180.6 192.1M264.9 173.5L260.6 175.7L256.3 177.8L252.1 179.3L249.2 176.4L247.1 178.5L246.3 182.1L247.8 185.0L249.9 187.8L250.6 192.1L249.2 195.0L251.3 197.1L250.6 200.7L249.2 204.3L250.6 207.1L253.5 208.5L257.8 207.8L259.9 205.7L260.6 204.3M287.1 103.5L284.9 106.4L282.8 108.5L284.2 109.7L286.3 107.1L287.8 104.3L287.1 103.5M307.8 112.1L310.6 110.0L314.9 108.5L319.2 107.1L322.8 105.0L326.3 106.4L329.2 105.7L331.3 107.8L329.2 110.0L328.5 113.5L330.6 116.4L332.1 118.5M307.8 112.1L309.2 115.0L312.1 117.1M339.2 112.8L342.1 111.7L346.3 113.5L347.8 117.1L344.9 118.5M340.6 114.3L343.5 113.5L344.9 115.7L342.8 117.1L340.6 116.4L340.6 114.3M269.2 130.0L273.5 131.1L277.8 133.5L279.2 138.5L282.1 142.1L282.8 147.1L285.6 148.5L288.5 151.4L292.1 155.0L296.3 156.4L300.6 159.3L304.9 162.8L308.5 165.7L312.1 168.5L316.3 170.7L320.6 173.1L326.3 172.8L330.6 174.3L333.5 177.1L334.9 178.5M309.9 118.5L308.5 121.4L309.2 125.7L312.1 129.3L316.3 132.1L322.1 135.0L327.8 137.8L331.3 142.8L333.5 148.5L336.3 152.8L340.6 156.4L346.3 160.7L351.8 162.8M339.2 121.4L342.1 123.5M344.9 120.0L349.2 124.3L351.8 127.1M346.3 127.1L350.6 131.4M340.6 122.8L343.5 125.7M302.9 152.5L304.3 152.5L304.3 153.7L302.9 153.7L302.9 152.5M332.1 173.5L333.5 177.1L336.3 180.0L340.6 180.7L344.9 182.8L347.8 185.7L349.2 188.5L351.8 190.0M318.2 177.7L320.2 178.7M338.1 183.5L340.1 184.0M269.2 179.3L271.3 181.4L272.1 185.0L269.9 187.8L269.2 189.3M269.2 190.7L269.9 197.1M311.6 227.8L311.6 224.0L315.4 222.6L320.2 222.1L325.9 222.6L330.6 223.1L335.4 222.1L339.2 221.6L344.0 221.2L347.8 220.7L351.1 221.2M347.3 213.8L350.2 216.7"/>
<path class="K" d="M26.8 41.8L27.9 42.4M45.6 64.3L46.5 64.8M87.1 91.1L88.9 91.1M88.3 86.1L89.2 86.7M33.5 195.3L37.8 195.7L42.1 195.0L44.9 195.4M81.8 183.5L82.8 185.7L84.9 186.1M44.9 203.5L47.8 201.4L49.9 203.3M167.2 205.0L167.8 205.7M144.2 212.1L146.3 212.7M216.3 97.1L219.2 95.0L223.5 94.3L227.8 95.7M258.5 75.7L261.3 75.0L264.9 76.8L268.5 78.5L269.2 80.0M257.1 99.3L254.9 101.4L252.8 103.5L253.5 105.7M262.1 173.5L264.9 175.0L268.5 177.8L269.2 179.3M310.9 4.8L311.8 5.3M318.5 5.3L319.3 5.5M321.9 3.8L322.8 4.3M329.5 4.3L330.1 4.8M337.6 10.0L338.5 10.5M340.3 16.4L340.9 17.1M309.2 109.7L312.1 108.8M331.3 119.0L332.8 119.7M276.3 150.3L279.9 150.3M271.3 146.1L272.1 146.7M272.5 140.4L273.1 141.0M275.3 152.8L275.9 153.4M278.2 156.5L278.8 157.1M287.3 156.5L288.2 157.1M290.6 156.0L292.1 156.8M326.1 179.7L326.8 180.3M339.7 214.3L340.6 214.7M343.5 213.6L344.2 214.0M321.8 211.9L322.3 212.3M89.4 53.0L92.6 53.3M83.5 49.0L85.8 49.5M89.5 45.8L90.2 45.9"/>
</svg>
<text class="n" x="321.69 325.71 329.72 335.74 345.10 347.77 353.79 357.80 360.48 367.17 369.84 373.85 376.53 379.20 385.22 389.90 392.58 399.26 403.28 409.29 414.64 417.32 423.34 429.35 435.37 438.05 444.73 450.08 452.76 458.78 465.46 473.49 482.85" y="791.45">from grib files provided by ECMWF</text>
<text class="n" x="378.53 387.89 393.91 399.93 405.95 411.97 414.64 419.32 426.01 435.37 438.05 442.06 444.73 450.08 456.10 462.12 468.14 471.48 477.50 483.52" y="810.65">©2026 sb@irizone.net</text>
<rect class="f" x="141.00" y="586.45" width="352.10" height="228.00"/>
</g>
</svg>
</body></html>
